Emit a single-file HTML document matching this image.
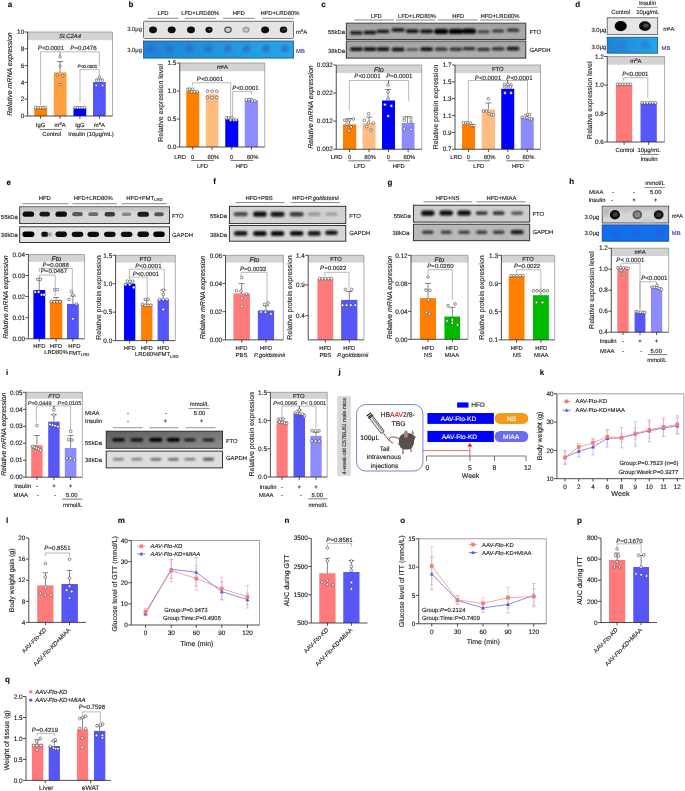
<!DOCTYPE html>
<html><head><meta charset="utf-8"><style>
html,body{margin:0;padding:0;background:#fff;overflow:hidden}
svg{display:block;font-family:"Liberation Sans",sans-serif;text-rendering:geometricPrecision;opacity:0.999}
</style></head><body>
<svg width="685" height="791" viewBox="0 0 685 791">
<defs>
<filter id="bl" x="-50%" y="-80%" width="200%" height="260%"><feGaussianBlur stdDeviation="0.9"/></filter>
<filter id="blb" x="-30%" y="-100%" width="160%" height="300%"><feGaussianBlur stdDeviation="0.8"/></filter>
<filter id="bl2" x="-50%" y="-80%" width="200%" height="260%"><feGaussianBlur stdDeviation="0.5"/></filter>
<filter id="bl3" x="-50%" y="-80%" width="200%" height="260%"><feGaussianBlur stdDeviation="1.4"/></filter>
<linearGradient id="mb" x1="0" x2="1" y1="0" y2="0"><stop offset="0" stop-color="#1c86d6"/><stop offset="1" stop-color="#25a6e6"/></linearGradient>
<linearGradient id="mb2" x1="0" x2="1" y1="0" y2="0"><stop offset="0" stop-color="#1a73e0"/><stop offset="1" stop-color="#1a7ae6"/></linearGradient>
</defs>
<text x="10" y="7.27" font-size="8" text-anchor="middle" fill="#111" stroke="#111" stroke-width="0.14" font-weight="bold">a</text>
<rect x="27.6" y="32" width="84.9" height="8.2" fill="#d3d3d3"/>
<text x="70.05" y="38.34" font-size="5.9" text-anchor="middle" fill="#1e1e1e" stroke="#1e1e1e" stroke-width="0.14" font-style="italic">SLC2A4</text>
<line x1="112.5" y1="32" x2="112.5" y2="116" stroke="#8a8a8a" stroke-width="0.7"/>
<line x1="27.6" y1="32" x2="112.5" y2="32" stroke="#8a8a8a" stroke-width="0.7"/>
<line x1="27.6" y1="32" x2="27.6" y2="116" stroke="#222" stroke-width="0.8"/>
<line x1="24.6" y1="32" x2="27.6" y2="32" stroke="#222" stroke-width="0.8"/>
<text x="24.2" y="34.22" font-size="6.4" text-anchor="end" fill="#1e1e1e" stroke="#1e1e1e" stroke-width="0.14">10</text>
<line x1="24.6" y1="48.8" x2="27.6" y2="48.8" stroke="#222" stroke-width="0.8"/>
<text x="24.2" y="51.02" font-size="6.4" text-anchor="end" fill="#1e1e1e" stroke="#1e1e1e" stroke-width="0.14">8</text>
<line x1="24.6" y1="65.6" x2="27.6" y2="65.6" stroke="#222" stroke-width="0.8"/>
<text x="24.2" y="67.82" font-size="6.4" text-anchor="end" fill="#1e1e1e" stroke="#1e1e1e" stroke-width="0.14">6</text>
<line x1="24.6" y1="82.4" x2="27.6" y2="82.4" stroke="#222" stroke-width="0.8"/>
<text x="24.2" y="84.62" font-size="6.4" text-anchor="end" fill="#1e1e1e" stroke="#1e1e1e" stroke-width="0.14">4</text>
<line x1="24.6" y1="99.2" x2="27.6" y2="99.2" stroke="#222" stroke-width="0.8"/>
<text x="24.2" y="101.42" font-size="6.4" text-anchor="end" fill="#1e1e1e" stroke="#1e1e1e" stroke-width="0.14">2</text>
<line x1="24.6" y1="116" x2="27.6" y2="116" stroke="#222" stroke-width="0.8"/>
<text x="24.2" y="118.22" font-size="6.4" text-anchor="end" fill="#1e1e1e" stroke="#1e1e1e" stroke-width="0.14">0</text>
<rect x="34.25" y="107.6" width="12.75" height="8.4" fill="#FF8000"/>
<rect x="53.75" y="72.3" width="12.75" height="43.7" fill="#FFA040"/>
<rect x="73.5" y="107.6" width="12.75" height="8.4" fill="#0000FF"/>
<rect x="93" y="82" width="12.75" height="34" fill="#5555FF"/>
<line x1="27.6" y1="116" x2="112.5" y2="116" stroke="#222" stroke-width="0.8"/>
<line x1="40.6" y1="116" x2="40.6" y2="118.8" stroke="#222" stroke-width="0.8"/>
<line x1="60.1" y1="116" x2="60.1" y2="118.8" stroke="#222" stroke-width="0.8"/>
<line x1="79.9" y1="116" x2="79.9" y2="118.8" stroke="#222" stroke-width="0.8"/>
<line x1="99.4" y1="116" x2="99.4" y2="118.8" stroke="#222" stroke-width="0.8"/>
<line x1="60.1" y1="72.3" x2="60.1" y2="61.5" stroke="#333" stroke-width="0.6"/>
<line x1="57.1" y1="61.5" x2="63.1" y2="61.5" stroke="#333" stroke-width="0.6"/>
<line x1="99.4" y1="82" x2="99.4" y2="79" stroke="#333" stroke-width="0.6"/>
<line x1="96.4" y1="79" x2="102.4" y2="79" stroke="#333" stroke-width="0.6"/>
<circle cx="35.8" cy="107.6" r="1.38" fill="#fff" stroke="#222" stroke-width="0.5"/>
<circle cx="38.22" cy="107.6" r="1.38" fill="#fff" stroke="#222" stroke-width="0.5"/>
<circle cx="40.65" cy="107.6" r="1.38" fill="#fff" stroke="#222" stroke-width="0.5"/>
<circle cx="43.08" cy="107.6" r="1.38" fill="#fff" stroke="#222" stroke-width="0.5"/>
<circle cx="45.5" cy="107.6" r="1.38" fill="#fff" stroke="#222" stroke-width="0.5"/>
<circle cx="75.1" cy="107.6" r="1.38" fill="#fff" stroke="#222" stroke-width="0.5"/>
<circle cx="77.5" cy="107.6" r="1.38" fill="#fff" stroke="#222" stroke-width="0.5"/>
<circle cx="79.9" cy="107.6" r="1.38" fill="#fff" stroke="#222" stroke-width="0.5"/>
<circle cx="82.3" cy="107.6" r="1.38" fill="#fff" stroke="#222" stroke-width="0.5"/>
<circle cx="84.7" cy="107.6" r="1.38" fill="#fff" stroke="#222" stroke-width="0.5"/>
<polyline points="40.6,105 40.6,51.8 60.1,51.8 60.1,56.5" fill="none" stroke="#8a8a8a" stroke-width="0.6"/>
<polyline points="60.1,56.5 60.1,51.8 99.4,51.8 99.4,66" fill="none" stroke="#8a8a8a" stroke-width="0.6"/>
<polyline points="80,102.5 80,69.6 99.4,69.6 99.4,75.5" fill="none" stroke="#8a8a8a" stroke-width="0.6"/>
<text x="51" y="50.11" font-size="6.1" text-anchor="middle" fill="#1e1e1e" stroke="#1e1e1e" stroke-width="0.14"><tspan font-style="italic">P</tspan>&lt;0.0001</text>
<text x="83.5" y="50.11" font-size="6.1" text-anchor="middle" fill="#1e1e1e" stroke="#1e1e1e" stroke-width="0.14"><tspan font-style="italic">P</tspan>=0.0476</text>
<text x="87.5" y="68.09" font-size="4.6" text-anchor="middle" fill="#1e1e1e" stroke="#1e1e1e" stroke-width="0.14"><tspan font-style="italic">P</tspan>&lt;0.0001</text>
<circle cx="60.1" cy="56.8" r="1.25" fill="#fff" stroke="#222" stroke-width="0.5"/>
<circle cx="60.1" cy="66" r="1.25" fill="#fff" stroke="#222" stroke-width="0.5"/>
<circle cx="57.3" cy="75" r="1.25" fill="#fff" stroke="#222" stroke-width="0.5"/>
<circle cx="62.8" cy="75.8" r="1.25" fill="#fff" stroke="#222" stroke-width="0.5"/>
<circle cx="60.1" cy="84.5" r="1.25" fill="#fff" stroke="#222" stroke-width="0.5"/>
<circle cx="99.4" cy="77" r="1.25" fill="#fff" stroke="#222" stroke-width="0.5"/>
<circle cx="96.4" cy="80.2" r="1.25" fill="#fff" stroke="#222" stroke-width="0.5"/>
<circle cx="102.4" cy="80.2" r="1.25" fill="#fff" stroke="#222" stroke-width="0.5"/>
<circle cx="96.2" cy="85.2" r="1.25" fill="#fff" stroke="#222" stroke-width="0.5"/>
<circle cx="102.6" cy="85.6" r="1.25" fill="#fff" stroke="#222" stroke-width="0.5"/>
<text x="40.6" y="126.64" font-size="5.9" text-anchor="middle" fill="#1e1e1e" stroke="#1e1e1e" stroke-width="0.14">IgG</text>
<text x="60.1" y="126.64" font-size="5.9" text-anchor="middle" fill="#1e1e1e" stroke="#1e1e1e" stroke-width="0.14">m<tspan font-size="70%" dy="-1.6">6</tspan><tspan dy="1.6">A</tspan></text>
<text x="79.9" y="126.64" font-size="5.9" text-anchor="middle" fill="#1e1e1e" stroke="#1e1e1e" stroke-width="0.14">IgG</text>
<text x="99.4" y="126.64" font-size="5.9" text-anchor="middle" fill="#1e1e1e" stroke="#1e1e1e" stroke-width="0.14">m<tspan font-size="70%" dy="-1.6">6</tspan><tspan dy="1.6">A</tspan></text>
<line x1="39.9" y1="129.4" x2="62" y2="129.4" stroke="#222" stroke-width="0.6"/>
<line x1="76.2" y1="129.4" x2="103" y2="129.4" stroke="#222" stroke-width="0.6"/>
<text x="51.7" y="136.04" font-size="5.9" text-anchor="middle" fill="#1e1e1e" stroke="#1e1e1e" stroke-width="0.14">Control</text>
<text x="91" y="136.04" font-size="5.9" text-anchor="middle" fill="#1e1e1e" stroke="#1e1e1e" stroke-width="0.14">Insulin (10μg/mL)</text>
<text x="9.8" y="74" dy="2.43" font-size="7.0" text-anchor="middle" fill="#1e1e1e" stroke="#1e1e1e" stroke-width="0.14" font-style="italic" transform="rotate(-90 9.8 74)">Relative mRNA expression</text>
<text x="131" y="6.77" font-size="8" text-anchor="middle" fill="#111" stroke="#111" stroke-width="0.14" font-weight="bold">b</text>
<text x="163" y="14.64" font-size="5.9" text-anchor="middle" fill="#1e1e1e" stroke="#1e1e1e" stroke-width="0.14">LFD</text>
<text x="200.3" y="14.64" font-size="5.9" text-anchor="middle" fill="#1e1e1e" stroke="#1e1e1e" stroke-width="0.14">LFD+LRD80%</text>
<text x="238.7" y="14.64" font-size="5.9" text-anchor="middle" fill="#1e1e1e" stroke="#1e1e1e" stroke-width="0.14">HFD</text>
<text x="280" y="14.64" font-size="5.9" text-anchor="middle" fill="#1e1e1e" stroke="#1e1e1e" stroke-width="0.14">HFD+LRD80%</text>
<line x1="147.7" y1="18.3" x2="178.4" y2="18.3" stroke="#555" stroke-width="0.7"/>
<line x1="184.8" y1="18.3" x2="215.8" y2="18.3" stroke="#555" stroke-width="0.7"/>
<line x1="223.1" y1="18.3" x2="254.3" y2="18.3" stroke="#555" stroke-width="0.7"/>
<line x1="262.2" y1="18.3" x2="293.7" y2="18.3" stroke="#555" stroke-width="0.7"/>
<text x="142" y="31.04" font-size="5.9" text-anchor="end" fill="#333" stroke="#333" stroke-width="0.14">3.0μg</text>
<text x="142" y="51.54" font-size="5.9" text-anchor="end" fill="#333" stroke="#333" stroke-width="0.14">3.0μg</text>
<rect x="143.5" y="21.3" width="150" height="17.2" fill="#e4e4e4" stroke="#6a625e" stroke-width="0.9" rx="1"/>
<g filter="url(#bl2)">
<ellipse cx="153" cy="29.8" rx="4" ry="3.4" fill="#0a0a0a"/>
<ellipse cx="171.7" cy="29.8" rx="4" ry="3.4" fill="#0a0a0a"/>
<ellipse cx="191" cy="29.8" rx="4" ry="3.4" fill="#0a0a0a"/>
<ellipse cx="209" cy="29.8" rx="3.6" ry="3.1" fill="#111"/>
<ellipse cx="209.6" cy="29.5" rx="1.5" ry="1.2" fill="#444"/>
<ellipse cx="228" cy="29.8" rx="3.8" ry="3.2" fill="#555"/>
<ellipse cx="228" cy="29.8" rx="2.6" ry="2.1" fill="#cfcfcf"/>
<ellipse cx="246.1" cy="29.8" rx="3.6" ry="3" fill="#9a9a9a"/>
<ellipse cx="246.1" cy="29.8" rx="2.2" ry="1.8" fill="#c8c8c8"/>
<ellipse cx="265.1" cy="29.8" rx="4" ry="3.4" fill="#0a0a0a"/>
<ellipse cx="283.5" cy="29.8" rx="3.7" ry="3.2" fill="#111"/>
<ellipse cx="284.3" cy="29.3" rx="1.6" ry="1.3" fill="#3a3a3a"/>
</g>
<rect x="143.5" y="41" width="150" height="17.1" fill="url(#mb)" stroke="#1d4f8f" stroke-width="0.8"/>
<g filter="url(#bl)">
<ellipse cx="150.5" cy="48.8" rx="4.1" ry="3.8" fill="#3568c4" opacity="0.7"/>
<ellipse cx="169.77" cy="48.8" rx="4.1" ry="3.8" fill="#3568c4" opacity="0.7"/>
<ellipse cx="189.64" cy="48.8" rx="4.1" ry="3.8" fill="#3568c4" opacity="0.7"/>
<ellipse cx="208.21" cy="48.8" rx="4.1" ry="3.8" fill="#3568c4" opacity="0.7"/>
<ellipse cx="227.79" cy="48.8" rx="4.1" ry="3.8" fill="#3568c4" opacity="0.7"/>
<ellipse cx="246.46" cy="48.8" rx="4.1" ry="3.8" fill="#3568c4" opacity="0.7"/>
<ellipse cx="266.03" cy="48.8" rx="4.1" ry="3.8" fill="#3568c4" opacity="0.7"/>
<ellipse cx="285" cy="48.8" rx="4.1" ry="3.8" fill="#3568c4" opacity="0.7"/>
</g>
<text x="296" y="33.54" font-size="5.9" text-anchor="start" fill="#1e1e1e" stroke="#1e1e1e" stroke-width="0.14">m<tspan font-size="70%" dy="-1.6">6</tspan><tspan dy="1.6">A</tspan></text>
<text x="296" y="52.54" font-size="5.9" text-anchor="start" fill="#3a3ab8" stroke="#3a3ab8" stroke-width="0.14">MB</text>
<rect x="179.75" y="63" width="85" height="8.2" fill="#d3d3d3"/>
<text x="222.25" y="69.34" font-size="5.9" text-anchor="middle" fill="#1e1e1e" stroke="#1e1e1e" stroke-width="0.14">m<tspan font-size="70%" dy="-1.6">6</tspan><tspan dy="1.6">A</tspan></text>
<line x1="264.75" y1="63" x2="264.75" y2="147" stroke="#8a8a8a" stroke-width="0.7"/>
<line x1="179.75" y1="63" x2="264.75" y2="63" stroke="#8a8a8a" stroke-width="0.7"/>
<line x1="179.75" y1="63" x2="179.75" y2="147" stroke="#222" stroke-width="0.8"/>
<line x1="176.75" y1="63" x2="179.75" y2="63" stroke="#222" stroke-width="0.8"/>
<text x="176.35" y="65.22" font-size="6.4" text-anchor="end" fill="#1e1e1e" stroke="#1e1e1e" stroke-width="0.14">1.5</text>
<line x1="176.75" y1="91" x2="179.75" y2="91" stroke="#222" stroke-width="0.8"/>
<text x="176.35" y="93.22" font-size="6.4" text-anchor="end" fill="#1e1e1e" stroke="#1e1e1e" stroke-width="0.14">1.0</text>
<line x1="176.75" y1="119" x2="179.75" y2="119" stroke="#222" stroke-width="0.8"/>
<text x="176.35" y="121.22" font-size="6.4" text-anchor="end" fill="#1e1e1e" stroke="#1e1e1e" stroke-width="0.14">0.5</text>
<line x1="176.75" y1="147" x2="179.75" y2="147" stroke="#222" stroke-width="0.8"/>
<text x="176.35" y="149.22" font-size="6.4" text-anchor="end" fill="#1e1e1e" stroke="#1e1e1e" stroke-width="0.14">0.0</text>
<rect x="186.25" y="91" width="13" height="56" fill="#FF8000"/>
<rect x="205.75" y="94.3" width="12.75" height="52.7" fill="#FFBB80"/>
<rect x="225.25" y="119.3" width="13" height="27.7" fill="#0000FF"/>
<rect x="244.75" y="100.5" width="13.25" height="46.5" fill="#8C8CFF"/>
<line x1="179.75" y1="147" x2="264.75" y2="147" stroke="#222" stroke-width="0.8"/>
<line x1="192.75" y1="147" x2="192.75" y2="149.8" stroke="#222" stroke-width="0.8"/>
<line x1="212.1" y1="147" x2="212.1" y2="149.8" stroke="#222" stroke-width="0.8"/>
<line x1="231.75" y1="147" x2="231.75" y2="149.8" stroke="#222" stroke-width="0.8"/>
<line x1="251.4" y1="147" x2="251.4" y2="149.8" stroke="#222" stroke-width="0.8"/>
<polyline points="192.6,86 192.6,82.8 230.7,82.8 230.7,117.5" fill="none" stroke="#8a8a8a" stroke-width="0.6"/>
<polyline points="232.6,117.5 232.6,91.6 251.6,91.6 251.6,94.5" fill="none" stroke="#8a8a8a" stroke-width="0.6"/>
<text x="210" y="81.41" font-size="6.1" text-anchor="middle" fill="#1e1e1e" stroke="#1e1e1e" stroke-width="0.14"><tspan font-style="italic">P</tspan>&lt;0.0001</text>
<text x="245.5" y="90.11" font-size="6.1" text-anchor="middle" fill="#1e1e1e" stroke="#1e1e1e" stroke-width="0.14"><tspan font-style="italic">P</tspan>&lt;0.0001</text>
<circle cx="187.9" cy="89.2" r="1.38" fill="#fff" stroke="#222" stroke-width="0.5"/>
<circle cx="189.9" cy="89.2" r="1.38" fill="#fff" stroke="#222" stroke-width="0.5"/>
<circle cx="192.5" cy="89.2" r="1.38" fill="#fff" stroke="#222" stroke-width="0.5"/>
<circle cx="191.8" cy="91.8" r="1.38" fill="#fff" stroke="#222" stroke-width="0.5"/>
<circle cx="194.5" cy="91.8" r="1.38" fill="#fff" stroke="#222" stroke-width="0.5"/>
<circle cx="197.1" cy="91.8" r="1.38" fill="#fff" stroke="#222" stroke-width="0.5"/>
<circle cx="207.6" cy="91.2" r="1.38" fill="#fff" stroke="#222" stroke-width="0.5"/>
<circle cx="212.2" cy="91.2" r="1.38" fill="#fff" stroke="#222" stroke-width="0.5"/>
<circle cx="216.8" cy="91.2" r="1.38" fill="#fff" stroke="#222" stroke-width="0.5"/>
<circle cx="207.6" cy="97.5" r="1.38" fill="#fff" stroke="#222" stroke-width="0.5"/>
<circle cx="212.2" cy="97.5" r="1.38" fill="#fff" stroke="#222" stroke-width="0.5"/>
<circle cx="216.8" cy="97.5" r="1.38" fill="#fff" stroke="#222" stroke-width="0.5"/>
<circle cx="226.6" cy="117.8" r="1.38" fill="#fff" stroke="#222" stroke-width="0.5"/>
<circle cx="228.6" cy="117.8" r="1.38" fill="#fff" stroke="#222" stroke-width="0.5"/>
<circle cx="231.9" cy="117.8" r="1.38" fill="#fff" stroke="#222" stroke-width="0.5"/>
<circle cx="230.6" cy="120" r="1.38" fill="#fff" stroke="#222" stroke-width="0.5"/>
<circle cx="233.9" cy="120" r="1.38" fill="#fff" stroke="#222" stroke-width="0.5"/>
<circle cx="236.2" cy="120" r="1.38" fill="#fff" stroke="#222" stroke-width="0.5"/>
<circle cx="246.4" cy="99.7" r="1.38" fill="#fff" stroke="#222" stroke-width="0.5"/>
<circle cx="249" cy="99.7" r="1.38" fill="#fff" stroke="#222" stroke-width="0.5"/>
<circle cx="251.6" cy="99.7" r="1.38" fill="#fff" stroke="#222" stroke-width="0.5"/>
<circle cx="252.3" cy="101" r="1.38" fill="#fff" stroke="#222" stroke-width="0.5"/>
<circle cx="254.9" cy="101" r="1.38" fill="#fff" stroke="#222" stroke-width="0.5"/>
<text x="186" y="158.84" font-size="5.9" text-anchor="end" fill="#1e1e1e" stroke="#1e1e1e" stroke-width="0.14">LRD</text>
<text x="192.75" y="158.84" font-size="5.9" text-anchor="middle" fill="#1e1e1e" stroke="#1e1e1e" stroke-width="0.14">0</text>
<text x="213.3" y="158.84" font-size="5.9" text-anchor="middle" fill="#1e1e1e" stroke="#1e1e1e" stroke-width="0.14">80%</text>
<text x="231.75" y="158.84" font-size="5.9" text-anchor="middle" fill="#1e1e1e" stroke="#1e1e1e" stroke-width="0.14">0</text>
<text x="252.6" y="158.84" font-size="5.9" text-anchor="middle" fill="#1e1e1e" stroke="#1e1e1e" stroke-width="0.14">80%</text>
<line x1="191.2" y1="160.5" x2="213.8" y2="160.5" stroke="#222" stroke-width="0.6"/>
<line x1="230.6" y1="160.5" x2="253.2" y2="160.5" stroke="#222" stroke-width="0.6"/>
<text x="202.5" y="167.64" font-size="5.9" text-anchor="middle" fill="#1e1e1e" stroke="#1e1e1e" stroke-width="0.14">LFD</text>
<text x="241.7" y="167.64" font-size="5.9" text-anchor="middle" fill="#1e1e1e" stroke="#1e1e1e" stroke-width="0.14">HFD</text>
<text x="160.3" y="103" dy="2.43" font-size="7.0" text-anchor="middle" fill="#1e1e1e" stroke="#1e1e1e" stroke-width="0.14" transform="rotate(-90 160.3 103)">Relative expression level</text>
<text x="323.5" y="7.27" font-size="8" text-anchor="middle" fill="#111" stroke="#111" stroke-width="0.14" font-weight="bold">c</text>
<text x="376.2" y="17.54" font-size="5.9" text-anchor="middle" fill="#1e1e1e" stroke="#1e1e1e" stroke-width="0.14">LFD</text>
<text x="417" y="17.54" font-size="5.9" text-anchor="middle" fill="#1e1e1e" stroke="#1e1e1e" stroke-width="0.14">LFD+LRD80%</text>
<text x="458.2" y="17.54" font-size="5.9" text-anchor="middle" fill="#1e1e1e" stroke="#1e1e1e" stroke-width="0.14">HFD</text>
<text x="500" y="17.54" font-size="5.9" text-anchor="middle" fill="#1e1e1e" stroke="#1e1e1e" stroke-width="0.14">HFD+LRD80%</text>
<line x1="354.5" y1="20" x2="393.7" y2="20" stroke="#555" stroke-width="0.7"/>
<line x1="396" y1="20" x2="435.5" y2="20" stroke="#555" stroke-width="0.7"/>
<line x1="438.2" y1="20" x2="477.5" y2="20" stroke="#555" stroke-width="0.7"/>
<line x1="480" y1="20" x2="519.2" y2="20" stroke="#555" stroke-width="0.7"/>
<text x="345" y="34.44" font-size="5.9" text-anchor="end" fill="#1e1e1e" stroke="#1e1e1e" stroke-width="0.14">55kDa</text>
<text x="345" y="53.04" font-size="5.9" text-anchor="end" fill="#1e1e1e" stroke="#1e1e1e" stroke-width="0.14">38kDa</text>
<text x="529.5" y="33.84" font-size="5.9" text-anchor="start" fill="#1e1e1e" stroke="#1e1e1e" stroke-width="0.14">FTO</text>
<text x="529.5" y="52.04" font-size="5.9" text-anchor="start" fill="#1e1e1e" stroke="#1e1e1e" stroke-width="0.14">GAPDH</text>
<rect x="346.3" y="23.2" width="179.5" height="16.2" fill="#a9a9a9" stroke="#222" stroke-width="0.9"/>
<rect x="346.8" y="23.7" width="178.5" height="3.3" fill="#9a9a9a" filter="url(#bl)" opacity="0.6"/>
<g filter="url(#blb)">
<rect x="350.1" y="31.15" width="12.6" height="3.3" rx="1.65" fill="#111"/>
<rect x="363.7" y="30.85" width="12.6" height="3.3" rx="1.65" fill="#111"/>
<rect x="376.8" y="29.75" width="12.6" height="3.3" rx="1.65" fill="#111"/>
<rect x="391.6" y="28.2" width="13" height="3.6" rx="1.8" fill="#0c0c0c"/>
<rect x="405.8" y="29.3" width="13" height="3.6" rx="1.8" fill="#0c0c0c"/>
<rect x="420.1" y="29.6" width="13" height="3.6" rx="1.8" fill="#0c0c0c"/>
<rect x="434.3" y="28.8" width="13.8" height="5.2" rx="2.6" fill="#030303"/>
<rect x="448.9" y="28.8" width="13.8" height="5.2" rx="2.6" fill="#030303"/>
<rect x="462.1" y="28.6" width="13.8" height="5.2" rx="2.6" fill="#030303"/>
<rect x="477.4" y="30.2" width="12.2" height="3" rx="1.5" fill="#3c3c3c"/>
<rect x="492" y="29.6" width="12.2" height="3" rx="1.5" fill="#333"/>
<rect x="506.9" y="28.6" width="12.2" height="3.2" rx="1.6" fill="#2a2a2a"/>
</g>
<rect x="346.3" y="41.1" width="179.5" height="17" fill="#adadad" stroke="#222" stroke-width="0.9"/>
<rect x="346.8" y="41.6" width="178.5" height="2.9" fill="#9a9a9a" filter="url(#bl)" opacity="0.6"/>
<g filter="url(#blb)">
<rect x="350" y="47.25" width="12.8" height="3.7" rx="1.85" fill="#0e0e0e"/>
<rect x="363.6" y="47.25" width="12.8" height="3.7" rx="1.85" fill="#0e0e0e"/>
<rect x="376.7" y="47.25" width="12.8" height="3.7" rx="1.85" fill="#0e0e0e"/>
<rect x="391.7" y="47.55" width="12.8" height="3.7" rx="1.85" fill="#0e0e0e"/>
<rect x="406.3" y="48" width="12" height="3" rx="1.5" fill="#555"/>
<rect x="420.2" y="47.25" width="12.8" height="3.7" rx="1.85" fill="#111"/>
<rect x="434.9" y="47.45" width="12.6" height="3.3" rx="1.65" fill="#2a2a2a"/>
<rect x="449.5" y="47.45" width="12.6" height="3.3" rx="1.65" fill="#2a2a2a"/>
<rect x="462.7" y="47.05" width="12.6" height="3.3" rx="1.65" fill="#2a2a2a"/>
<rect x="477.2" y="47.75" width="12.6" height="3.3" rx="1.65" fill="#2a2a2a"/>
<rect x="491.8" y="47.25" width="12.6" height="3.3" rx="1.65" fill="#2a2a2a"/>
<rect x="506.6" y="46.7" width="12.8" height="3.8" rx="1.9" fill="#151515"/>
</g>
<rect x="336.25" y="65" width="85.5" height="8" fill="#d3d3d3"/>
<text x="379" y="71.56" font-size="6.8" text-anchor="middle" fill="#1e1e1e" stroke="#1e1e1e" stroke-width="0.14" font-style="italic">Fto</text>
<line x1="421.75" y1="65" x2="421.75" y2="149.25" stroke="#8a8a8a" stroke-width="0.7"/>
<line x1="336.25" y1="65" x2="421.75" y2="65" stroke="#8a8a8a" stroke-width="0.7"/>
<line x1="336.25" y1="65" x2="336.25" y2="149.25" stroke="#222" stroke-width="0.8"/>
<line x1="333.25" y1="65" x2="336.25" y2="65" stroke="#222" stroke-width="0.8"/>
<text x="332.85" y="67.22" font-size="6.4" text-anchor="end" fill="#1e1e1e" stroke="#1e1e1e" stroke-width="0.14">0.032</text>
<line x1="333.25" y1="93.08" x2="336.25" y2="93.08" stroke="#222" stroke-width="0.8"/>
<text x="332.85" y="95.3" font-size="6.4" text-anchor="end" fill="#1e1e1e" stroke="#1e1e1e" stroke-width="0.14">0.022</text>
<line x1="333.25" y1="121.17" x2="336.25" y2="121.17" stroke="#222" stroke-width="0.8"/>
<text x="332.85" y="123.38" font-size="6.4" text-anchor="end" fill="#1e1e1e" stroke="#1e1e1e" stroke-width="0.14">0.012</text>
<line x1="333.25" y1="149.25" x2="336.25" y2="149.25" stroke="#222" stroke-width="0.8"/>
<text x="332.85" y="151.47" font-size="6.4" text-anchor="end" fill="#1e1e1e" stroke="#1e1e1e" stroke-width="0.14">0.002</text>
<rect x="343" y="124.3" width="13.25" height="24.95" fill="#FF8000"/>
<rect x="362.5" y="123" width="13" height="26.25" fill="#FFBB80"/>
<rect x="382" y="100.5" width="13" height="48.75" fill="#0000FF"/>
<rect x="401.75" y="123" width="12.75" height="26.25" fill="#8C8CFF"/>
<line x1="336.25" y1="149.25" x2="421.75" y2="149.25" stroke="#222" stroke-width="0.8"/>
<line x1="349.6" y1="149.25" x2="349.6" y2="152.05" stroke="#222" stroke-width="0.8"/>
<line x1="369" y1="149.25" x2="369" y2="152.05" stroke="#222" stroke-width="0.8"/>
<line x1="388.5" y1="149.25" x2="388.5" y2="152.05" stroke="#222" stroke-width="0.8"/>
<line x1="408.1" y1="149.25" x2="408.1" y2="152.05" stroke="#222" stroke-width="0.8"/>
<line x1="349.6" y1="124.3" x2="349.6" y2="118.5" stroke="#333" stroke-width="0.6"/>
<line x1="346.6" y1="118.5" x2="352.6" y2="118.5" stroke="#333" stroke-width="0.6"/>
<line x1="369" y1="123" x2="369" y2="117" stroke="#333" stroke-width="0.6"/>
<line x1="366" y1="117" x2="372" y2="117" stroke="#333" stroke-width="0.6"/>
<line x1="388.1" y1="100.5" x2="388.1" y2="89.5" stroke="#333" stroke-width="0.6"/>
<line x1="384.9" y1="89.5" x2="391.3" y2="89.5" stroke="#333" stroke-width="0.6"/>
<line x1="407.5" y1="123" x2="407.5" y2="116.7" stroke="#333" stroke-width="0.6"/>
<line x1="404.5" y1="116.7" x2="410.5" y2="116.7" stroke="#333" stroke-width="0.6"/>
<polyline points="349.3,110 349.3,80.5 408.7,80.5 408.7,101.3" fill="none" stroke="#8a8a8a" stroke-width="0.6"/>
<line x1="388.6" y1="80.5" x2="388.6" y2="83" stroke="#222" stroke-width="0.8"/>
<text x="367.5" y="78.41" font-size="6.1" text-anchor="middle" fill="#1e1e1e" stroke="#1e1e1e" stroke-width="0.14"><tspan font-style="italic">P</tspan>&lt;0.0001</text>
<text x="399.3" y="78.41" font-size="6.1" text-anchor="middle" fill="#1e1e1e" stroke="#1e1e1e" stroke-width="0.14"><tspan font-style="italic">P</tspan>=0.0001</text>
<circle cx="344.8" cy="120.2" r="1.38" fill="#fff" stroke="#222" stroke-width="0.5"/>
<circle cx="347" cy="120.2" r="1.38" fill="#fff" stroke="#222" stroke-width="0.5"/>
<circle cx="349.2" cy="120" r="1.38" fill="#fff" stroke="#222" stroke-width="0.5"/>
<circle cx="353.4" cy="119" r="1.38" fill="#fff" stroke="#222" stroke-width="0.5"/>
<circle cx="347" cy="124.3" r="1.38" fill="#fff" stroke="#222" stroke-width="0.5"/>
<circle cx="351.3" cy="127" r="1.38" fill="#fff" stroke="#222" stroke-width="0.5"/>
<circle cx="349.1" cy="130.9" r="1.38" fill="#fff" stroke="#222" stroke-width="0.5"/>
<circle cx="368.6" cy="113.8" r="1.38" fill="#fff" stroke="#222" stroke-width="0.5"/>
<circle cx="364.3" cy="120.2" r="1.38" fill="#fff" stroke="#222" stroke-width="0.5"/>
<circle cx="368.6" cy="122.5" r="1.38" fill="#fff" stroke="#222" stroke-width="0.5"/>
<circle cx="373.3" cy="123.1" r="1.38" fill="#fff" stroke="#222" stroke-width="0.5"/>
<circle cx="366.6" cy="126.6" r="1.38" fill="#fff" stroke="#222" stroke-width="0.5"/>
<circle cx="371" cy="130.1" r="1.38" fill="#fff" stroke="#222" stroke-width="0.5"/>
<circle cx="388.1" cy="84.9" r="1.38" fill="#fff" stroke="#222" stroke-width="0.5"/>
<circle cx="388.1" cy="91.8" r="1.38" fill="#fff" stroke="#222" stroke-width="0.5"/>
<circle cx="388.1" cy="99" r="1.38" fill="#fff" stroke="#222" stroke-width="0.5"/>
<circle cx="384.9" cy="104.6" r="1.38" fill="#fff" stroke="#222" stroke-width="0.5"/>
<circle cx="391.4" cy="105.9" r="1.38" fill="#fff" stroke="#222" stroke-width="0.5"/>
<circle cx="388.1" cy="116.1" r="1.38" fill="#fff" stroke="#222" stroke-width="0.5"/>
<circle cx="404.3" cy="117.6" r="1.38" fill="#fff" stroke="#222" stroke-width="0.5"/>
<circle cx="404.3" cy="120.4" r="1.38" fill="#fff" stroke="#222" stroke-width="0.5"/>
<circle cx="411" cy="117.9" r="1.38" fill="#fff" stroke="#222" stroke-width="0.5"/>
<circle cx="411" cy="121.9" r="1.38" fill="#fff" stroke="#222" stroke-width="0.5"/>
<circle cx="404.3" cy="129" r="1.38" fill="#fff" stroke="#222" stroke-width="0.5"/>
<circle cx="411" cy="129.5" r="1.38" fill="#fff" stroke="#222" stroke-width="0.5"/>
<text x="342.5" y="158.84" font-size="5.9" text-anchor="end" fill="#1e1e1e" stroke="#1e1e1e" stroke-width="0.14">LRD</text>
<text x="349.6" y="158.84" font-size="5.9" text-anchor="middle" fill="#1e1e1e" stroke="#1e1e1e" stroke-width="0.14">0</text>
<text x="370.2" y="158.84" font-size="5.9" text-anchor="middle" fill="#1e1e1e" stroke="#1e1e1e" stroke-width="0.14">80%</text>
<text x="388.5" y="158.84" font-size="5.9" text-anchor="middle" fill="#1e1e1e" stroke="#1e1e1e" stroke-width="0.14">0</text>
<text x="409.3" y="158.84" font-size="5.9" text-anchor="middle" fill="#1e1e1e" stroke="#1e1e1e" stroke-width="0.14">80%</text>
<line x1="348.3" y1="160.8" x2="370.5" y2="160.8" stroke="#222" stroke-width="0.6"/>
<line x1="388" y1="160.8" x2="410" y2="160.8" stroke="#222" stroke-width="0.6"/>
<text x="359.5" y="167.64" font-size="5.9" text-anchor="middle" fill="#1e1e1e" stroke="#1e1e1e" stroke-width="0.14">LFD</text>
<text x="398.8" y="167.64" font-size="5.9" text-anchor="middle" fill="#1e1e1e" stroke="#1e1e1e" stroke-width="0.14">HFD</text>
<text x="310.8" y="107" dy="2.43" font-size="7.0" text-anchor="middle" fill="#1e1e1e" stroke="#1e1e1e" stroke-width="0.14" font-style="italic" transform="rotate(-90 310.8 107)">Relative <tspan font-style="italic">mRNA</tspan> expression</text>
<rect x="455" y="65" width="85.5" height="8" fill="#d3d3d3"/>
<text x="497.75" y="71.24" font-size="5.9" text-anchor="middle" fill="#1e1e1e" stroke="#1e1e1e" stroke-width="0.14">FTO</text>
<line x1="540.5" y1="65" x2="540.5" y2="149.25" stroke="#8a8a8a" stroke-width="0.7"/>
<line x1="455" y1="65" x2="540.5" y2="65" stroke="#8a8a8a" stroke-width="0.7"/>
<line x1="455" y1="65" x2="455" y2="149.25" stroke="#222" stroke-width="0.8"/>
<line x1="452" y1="65" x2="455" y2="65" stroke="#222" stroke-width="0.8"/>
<text x="451.6" y="67.22" font-size="6.4" text-anchor="end" fill="#1e1e1e" stroke="#1e1e1e" stroke-width="0.14">1.7</text>
<line x1="452" y1="81.85" x2="455" y2="81.85" stroke="#222" stroke-width="0.8"/>
<text x="451.6" y="84.07" font-size="6.4" text-anchor="end" fill="#1e1e1e" stroke="#1e1e1e" stroke-width="0.14">1.5</text>
<line x1="452" y1="98.7" x2="455" y2="98.7" stroke="#222" stroke-width="0.8"/>
<text x="451.6" y="100.92" font-size="6.4" text-anchor="end" fill="#1e1e1e" stroke="#1e1e1e" stroke-width="0.14">1.3</text>
<line x1="452" y1="115.55" x2="455" y2="115.55" stroke="#222" stroke-width="0.8"/>
<text x="451.6" y="117.77" font-size="6.4" text-anchor="end" fill="#1e1e1e" stroke="#1e1e1e" stroke-width="0.14">1.1</text>
<line x1="452" y1="132.4" x2="455" y2="132.4" stroke="#222" stroke-width="0.8"/>
<text x="451.6" y="134.62" font-size="6.4" text-anchor="end" fill="#1e1e1e" stroke="#1e1e1e" stroke-width="0.14">0.9</text>
<line x1="452" y1="149.25" x2="455" y2="149.25" stroke="#222" stroke-width="0.8"/>
<text x="451.6" y="151.47" font-size="6.4" text-anchor="end" fill="#1e1e1e" stroke="#1e1e1e" stroke-width="0.14">0.7</text>
<rect x="462" y="124.3" width="13" height="24.95" fill="#FF8000"/>
<rect x="481.75" y="109.5" width="13.25" height="39.75" fill="#FFBB80"/>
<rect x="501.25" y="88.8" width="13" height="60.45" fill="#0000FF"/>
<rect x="520.75" y="117.5" width="13" height="31.75" fill="#8C8CFF"/>
<line x1="455" y1="149.25" x2="540.5" y2="149.25" stroke="#222" stroke-width="0.8"/>
<line x1="468.5" y1="149.25" x2="468.5" y2="152.05" stroke="#222" stroke-width="0.8"/>
<line x1="488.4" y1="149.25" x2="488.4" y2="152.05" stroke="#222" stroke-width="0.8"/>
<line x1="507.8" y1="149.25" x2="507.8" y2="152.05" stroke="#222" stroke-width="0.8"/>
<line x1="527.3" y1="149.25" x2="527.3" y2="152.05" stroke="#222" stroke-width="0.8"/>
<line x1="488.4" y1="109.5" x2="488.4" y2="103" stroke="#333" stroke-width="0.6"/>
<line x1="485.4" y1="103" x2="491.4" y2="103" stroke="#333" stroke-width="0.6"/>
<line x1="507.8" y1="88.8" x2="507.8" y2="84.5" stroke="#333" stroke-width="0.6"/>
<line x1="504.8" y1="84.5" x2="510.8" y2="84.5" stroke="#333" stroke-width="0.6"/>
<line x1="527.3" y1="117.5" x2="527.3" y2="114.5" stroke="#333" stroke-width="0.6"/>
<line x1="524.3" y1="114.5" x2="530.3" y2="114.5" stroke="#333" stroke-width="0.6"/>
<polyline points="468.3,121.8 468.3,80.5 527.5,80.5 527.5,113.8" fill="none" stroke="#8a8a8a" stroke-width="0.6"/>
<line x1="507.6" y1="80.5" x2="507.6" y2="84" stroke="#222" stroke-width="0.8"/>
<text x="488" y="79.71" font-size="6.1" text-anchor="middle" fill="#1e1e1e" stroke="#1e1e1e" stroke-width="0.14"><tspan font-style="italic">P</tspan>&lt;0.0001</text>
<text x="519.5" y="79.71" font-size="6.1" text-anchor="middle" fill="#1e1e1e" stroke="#1e1e1e" stroke-width="0.14"><tspan font-style="italic">P</tspan>&lt;0.0001</text>
<circle cx="463.5" cy="122.8" r="1.38" fill="#fff" stroke="#222" stroke-width="0.5"/>
<circle cx="465.8" cy="122.8" r="1.38" fill="#fff" stroke="#222" stroke-width="0.5"/>
<circle cx="468" cy="122.8" r="1.38" fill="#fff" stroke="#222" stroke-width="0.5"/>
<circle cx="470.5" cy="123.2" r="1.38" fill="#fff" stroke="#222" stroke-width="0.5"/>
<circle cx="472" cy="125.6" r="1.38" fill="#fff" stroke="#222" stroke-width="0.5"/>
<circle cx="474" cy="125.6" r="1.38" fill="#fff" stroke="#222" stroke-width="0.5"/>
<circle cx="488.4" cy="98.8" r="1.38" fill="#fff" stroke="#222" stroke-width="0.5"/>
<circle cx="483.5" cy="111" r="1.38" fill="#fff" stroke="#222" stroke-width="0.5"/>
<circle cx="486.5" cy="111" r="1.38" fill="#fff" stroke="#222" stroke-width="0.5"/>
<circle cx="489" cy="113.8" r="1.38" fill="#fff" stroke="#222" stroke-width="0.5"/>
<circle cx="491.5" cy="114.8" r="1.38" fill="#fff" stroke="#222" stroke-width="0.5"/>
<circle cx="493.5" cy="114.8" r="1.38" fill="#fff" stroke="#222" stroke-width="0.5"/>
<circle cx="504.5" cy="84.5" r="1.38" fill="#fff" stroke="#222" stroke-width="0.5"/>
<circle cx="507.8" cy="84.5" r="1.38" fill="#fff" stroke="#222" stroke-width="0.5"/>
<circle cx="511" cy="85" r="1.38" fill="#fff" stroke="#222" stroke-width="0.5"/>
<circle cx="505" cy="87" r="1.38" fill="#fff" stroke="#222" stroke-width="0.5"/>
<circle cx="510.5" cy="87" r="1.38" fill="#fff" stroke="#222" stroke-width="0.5"/>
<circle cx="505" cy="93" r="1.38" fill="#fff" stroke="#222" stroke-width="0.5"/>
<circle cx="511" cy="93" r="1.38" fill="#fff" stroke="#222" stroke-width="0.5"/>
<circle cx="522" cy="117.4" r="1.38" fill="#fff" stroke="#222" stroke-width="0.5"/>
<circle cx="524.5" cy="117.4" r="1.38" fill="#fff" stroke="#222" stroke-width="0.5"/>
<circle cx="527" cy="117.8" r="1.38" fill="#fff" stroke="#222" stroke-width="0.5"/>
<circle cx="529.5" cy="118.5" r="1.38" fill="#fff" stroke="#222" stroke-width="0.5"/>
<circle cx="531.5" cy="119" r="1.38" fill="#fff" stroke="#222" stroke-width="0.5"/>
<circle cx="527.5" cy="114.5" r="1.38" fill="#fff" stroke="#222" stroke-width="0.5"/>
<circle cx="529.5" cy="114.5" r="1.38" fill="#fff" stroke="#222" stroke-width="0.5"/>
<text x="462" y="158.84" font-size="5.9" text-anchor="end" fill="#1e1e1e" stroke="#1e1e1e" stroke-width="0.14">LRD</text>
<text x="468.5" y="158.84" font-size="5.9" text-anchor="middle" fill="#1e1e1e" stroke="#1e1e1e" stroke-width="0.14">0</text>
<text x="489.6" y="158.84" font-size="5.9" text-anchor="middle" fill="#1e1e1e" stroke="#1e1e1e" stroke-width="0.14">80%</text>
<text x="507.8" y="158.84" font-size="5.9" text-anchor="middle" fill="#1e1e1e" stroke="#1e1e1e" stroke-width="0.14">0</text>
<text x="528.5" y="158.84" font-size="5.9" text-anchor="middle" fill="#1e1e1e" stroke="#1e1e1e" stroke-width="0.14">80%</text>
<line x1="467.5" y1="160.8" x2="490" y2="160.8" stroke="#222" stroke-width="0.6"/>
<line x1="506.3" y1="160.8" x2="529.3" y2="160.8" stroke="#222" stroke-width="0.6"/>
<text x="478.8" y="167.64" font-size="5.9" text-anchor="middle" fill="#1e1e1e" stroke="#1e1e1e" stroke-width="0.14">LFD</text>
<text x="518" y="167.64" font-size="5.9" text-anchor="middle" fill="#1e1e1e" stroke="#1e1e1e" stroke-width="0.14">HFD</text>
<text x="435.8" y="107" dy="2.43" font-size="7.0" text-anchor="middle" fill="#1e1e1e" stroke="#1e1e1e" stroke-width="0.14" transform="rotate(-90 435.8 107)">Relative protein expression</text>
<text x="577.8" y="6.77" font-size="8" text-anchor="middle" fill="#111" stroke="#111" stroke-width="0.14" font-weight="bold">d</text>
<text x="647.5" y="5.44" font-size="5.9" text-anchor="middle" fill="#1e1e1e" stroke="#1e1e1e" stroke-width="0.14">Insulin</text>
<line x1="637" y1="7.4" x2="657.7" y2="7.4" stroke="#555" stroke-width="0.6"/>
<text x="620.7" y="14.24" font-size="5.9" text-anchor="middle" fill="#1e1e1e" stroke="#1e1e1e" stroke-width="0.14">Control</text>
<text x="647.8" y="14.24" font-size="5.9" text-anchor="middle" fill="#1e1e1e" stroke="#1e1e1e" stroke-width="0.14">10μg/mL</text>
<text x="606.3" y="32.34" font-size="5.9" text-anchor="end" fill="#1e1e1e" stroke="#1e1e1e" stroke-width="0.14">3.0μg</text>
<text x="606.3" y="49.04" font-size="5.9" text-anchor="end" fill="#1e1e1e" stroke="#1e1e1e" stroke-width="0.14">3.0μg</text>
<rect x="607.2" y="17.8" width="50.5" height="16.6" fill="#e6e6e6" stroke="#555" stroke-width="0.8"/>
<g filter="url(#bl2)">
<ellipse cx="620.7" cy="26.1" rx="6.1" ry="5.1" fill="#050505"/>
<ellipse cx="644.9" cy="26.1" rx="5.9" ry="4.9" fill="#080808"/>
<ellipse cx="646" cy="25.4" rx="2.8" ry="2" fill="#4a4a4a"/>
</g>
<rect x="607.2" y="37.2" width="50.5" height="16" fill="url(#mb)" stroke="#1d4f8f" stroke-width="0.8"/>
<g filter="url(#bl)">
<ellipse cx="621.5" cy="45.2" rx="5" ry="4.6" fill="#3070d0" opacity="0.5"/>
<ellipse cx="645.5" cy="45.2" rx="5" ry="4.6" fill="#3070d0" opacity="0.5"/>
</g>
<text x="663.2" y="31.34" font-size="5.9" text-anchor="start" fill="#1e1e1e" stroke="#1e1e1e" stroke-width="0.14">m<tspan font-size="70%" dy="-1.6">6</tspan><tspan dy="1.6">A</tspan></text>
<text x="661.5" y="50.44" font-size="5.9" text-anchor="start" fill="#3a3ab8" stroke="#3a3ab8" stroke-width="0.14">MB</text>
<rect x="607.2" y="56.5" width="57.4" height="8.2" fill="#d3d3d3"/>
<text x="635.9" y="62.84" font-size="5.9" text-anchor="middle" fill="#1e1e1e" stroke="#1e1e1e" stroke-width="0.14">m<tspan font-size="70%" dy="-1.6">6</tspan><tspan dy="1.6">A</tspan></text>
<line x1="664.6" y1="56.5" x2="664.6" y2="142" stroke="#8a8a8a" stroke-width="0.7"/>
<line x1="607.2" y1="56.5" x2="664.6" y2="56.5" stroke="#8a8a8a" stroke-width="0.7"/>
<line x1="607.2" y1="56.5" x2="607.2" y2="142" stroke="#222" stroke-width="0.8"/>
<line x1="604.2" y1="56.5" x2="607.2" y2="56.5" stroke="#222" stroke-width="0.8"/>
<text x="603.8" y="58.72" font-size="6.4" text-anchor="end" fill="#1e1e1e" stroke="#1e1e1e" stroke-width="0.14">1.2</text>
<line x1="604.2" y1="85" x2="607.2" y2="85" stroke="#222" stroke-width="0.8"/>
<text x="603.8" y="87.22" font-size="6.4" text-anchor="end" fill="#1e1e1e" stroke="#1e1e1e" stroke-width="0.14">1.0</text>
<line x1="604.2" y1="113.5" x2="607.2" y2="113.5" stroke="#222" stroke-width="0.8"/>
<text x="603.8" y="115.72" font-size="6.4" text-anchor="end" fill="#1e1e1e" stroke="#1e1e1e" stroke-width="0.14">0.8</text>
<line x1="604.2" y1="142" x2="607.2" y2="142" stroke="#222" stroke-width="0.8"/>
<text x="603.8" y="144.22" font-size="6.4" text-anchor="end" fill="#1e1e1e" stroke="#1e1e1e" stroke-width="0.14">0.6</text>
<rect x="615.9" y="84.6" width="16.3" height="57.4" fill="#FF7B7B"/>
<rect x="640.5" y="103.3" width="16.3" height="38.7" fill="#5757F8"/>
<line x1="607.2" y1="142" x2="664.6" y2="142" stroke="#222" stroke-width="0.8"/>
<line x1="624.1" y1="142" x2="624.1" y2="144.8" stroke="#222" stroke-width="0.8"/>
<line x1="648.7" y1="142" x2="648.7" y2="144.8" stroke="#222" stroke-width="0.8"/>
<polyline points="623.4,80.8 623.4,77.7 647.8,77.7 647.8,98.2" fill="none" stroke="#8a8a8a" stroke-width="0.6"/>
<text x="635.3" y="75.61" font-size="6.1" text-anchor="middle" fill="#1e1e1e" stroke="#1e1e1e" stroke-width="0.14"><tspan font-style="italic">P</tspan>&lt;0.0001</text>
<circle cx="617.5" cy="84.3" r="1.38" fill="#fff" stroke="#222" stroke-width="0.5"/>
<circle cx="620.1" cy="84.3" r="1.38" fill="#fff" stroke="#222" stroke-width="0.5"/>
<circle cx="622.7" cy="84.3" r="1.38" fill="#fff" stroke="#222" stroke-width="0.5"/>
<circle cx="625.3" cy="84.3" r="1.38" fill="#fff" stroke="#222" stroke-width="0.5"/>
<circle cx="627.9" cy="84.3" r="1.38" fill="#fff" stroke="#222" stroke-width="0.5"/>
<circle cx="630.5" cy="84.3" r="1.38" fill="#fff" stroke="#222" stroke-width="0.5"/>
<circle cx="642" cy="102.8" r="1.38" fill="#fff" stroke="#222" stroke-width="0.5"/>
<circle cx="644.7" cy="102.8" r="1.38" fill="#fff" stroke="#222" stroke-width="0.5"/>
<circle cx="647.4" cy="102.8" r="1.38" fill="#fff" stroke="#222" stroke-width="0.5"/>
<circle cx="650.1" cy="102.8" r="1.38" fill="#fff" stroke="#222" stroke-width="0.5"/>
<circle cx="652.8" cy="102.8" r="1.38" fill="#fff" stroke="#222" stroke-width="0.5"/>
<circle cx="655.5" cy="102.8" r="1.38" fill="#fff" stroke="#222" stroke-width="0.5"/>
<text x="624.9" y="152.44" font-size="5.9" text-anchor="middle" fill="#1e1e1e" stroke="#1e1e1e" stroke-width="0.14">Control</text>
<text x="648.9" y="152.04" font-size="5.9" text-anchor="middle" fill="#1e1e1e" stroke="#1e1e1e" stroke-width="0.14">10μg/mL</text>
<line x1="640.5" y1="154.4" x2="658.3" y2="154.4" stroke="#222" stroke-width="0.6"/>
<text x="648.9" y="160.84" font-size="5.9" text-anchor="middle" fill="#1e1e1e" stroke="#1e1e1e" stroke-width="0.14">Insulin</text>
<text x="589.4" y="100.2" dy="2.43" font-size="7.0" text-anchor="middle" fill="#1e1e1e" stroke="#1e1e1e" stroke-width="0.14" transform="rotate(-90 589.4 100.2)">Relative expression level</text>
<text x="8.8" y="184.77" font-size="8" text-anchor="middle" fill="#111" stroke="#111" stroke-width="0.14" font-weight="bold">e</text>
<text x="44.7" y="199.94" font-size="5.9" text-anchor="middle" fill="#1e1e1e" stroke="#1e1e1e" stroke-width="0.14">HFD</text>
<text x="93.3" y="199.94" font-size="5.9" text-anchor="middle" fill="#1e1e1e" stroke="#1e1e1e" stroke-width="0.14">HFD+LRD80%</text>
<text x="144.5" y="199.94" font-size="5.9" text-anchor="middle" fill="#1e1e1e" stroke="#1e1e1e" stroke-width="0.14">HFD+FMT<tspan font-size="4.3" dy="1.4">LRD</tspan></text>
<line x1="22.3" y1="203.7" x2="68.8" y2="203.7" stroke="#555" stroke-width="0.7"/>
<line x1="72.3" y1="203.7" x2="116.9" y2="203.7" stroke="#555" stroke-width="0.7"/>
<line x1="121.4" y1="203.7" x2="166.8" y2="203.7" stroke="#555" stroke-width="0.7"/>
<text x="17.9" y="218.54" font-size="5.9" text-anchor="end" fill="#1e1e1e" stroke="#1e1e1e" stroke-width="0.14">55kDa</text>
<text x="17.9" y="236.74" font-size="5.9" text-anchor="end" fill="#1e1e1e" stroke="#1e1e1e" stroke-width="0.14">38kDa</text>
<text x="172" y="218.34" font-size="5.9" text-anchor="start" fill="#1e1e1e" stroke="#1e1e1e" stroke-width="0.14">FTO</text>
<text x="172" y="237.04" font-size="5.9" text-anchor="start" fill="#1e1e1e" stroke="#1e1e1e" stroke-width="0.14">GAPDH</text>
<rect x="19.7" y="206.8" width="149.8" height="16.8" fill="#d6d6d6" stroke="#222" stroke-width="0.9"/>
<rect x="20.2" y="206.8" width="148.8" height="4.2" fill="#bdbdbd" filter="url(#bl)" opacity="0.7"/>
<g filter="url(#bl2)">
<rect x="22.65" y="211.6" width="11.5" height="5.2" rx="2.6" fill="#0c0c0c"/>
<rect x="39.45" y="211.8" width="10.5" height="4.8" rx="2.4" fill="#141414"/>
<rect x="55.45" y="211.6" width="11.5" height="5.2" rx="2.6" fill="#0c0c0c"/>
<rect x="72.25" y="212.1" width="10.5" height="4.2" rx="2.1" fill="#5a5a5a"/>
<rect x="88.3" y="212.3" width="10" height="3.8" rx="1.9" fill="#6a6a6a"/>
<rect x="104.55" y="212" width="10.5" height="4.4" rx="2.2" fill="#3a3a3a"/>
<rect x="121.85" y="212.4" width="9.5" height="3.6" rx="1.8" fill="#8a8a8a"/>
<rect x="137.45" y="211.7" width="11.5" height="5" rx="2.5" fill="#1a1a1a"/>
<rect x="154.25" y="212.2" width="9.5" height="4" rx="2" fill="#555"/>
</g>
<rect x="19.7" y="226.8" width="149.8" height="15.7" fill="#e4e4e4" stroke="#222" stroke-width="0.9"/>
<g filter="url(#bl2)">
<rect x="22.4" y="231.5" width="12" height="5.6" rx="2.8" fill="#050505"/>
<rect x="41.45" y="231.8" width="6.5" height="5" rx="1.62" fill="#080808"/>
<rect x="55.45" y="231.6" width="11.5" height="5.4" rx="2.7" fill="#080808"/>
<rect x="71.75" y="231.7" width="11.5" height="5.2" rx="2.6" fill="#0c0c0c"/>
<rect x="87.55" y="231.7" width="11.5" height="5.2" rx="2.6" fill="#0c0c0c"/>
<rect x="104.05" y="231.7" width="11.5" height="5.2" rx="2.6" fill="#0c0c0c"/>
<rect x="120.85" y="231.7" width="11.5" height="5.2" rx="2.6" fill="#101010"/>
<rect x="137.45" y="231.6" width="11.5" height="5.4" rx="2.7" fill="#080808"/>
<rect x="153.25" y="231.5" width="11.5" height="5.6" rx="2.8" fill="#050505"/>
</g>
<ellipse cx="49.5" cy="234.3" rx="2.2" ry="1.5" fill="#777" filter="url(#bl)"/>
<rect x="28.4" y="254.5" width="56.2" height="7.3" fill="#d3d3d3"/>
<text x="56.5" y="260.71" font-size="6.8" text-anchor="middle" fill="#1e1e1e" stroke="#1e1e1e" stroke-width="0.14" font-style="italic">Fto</text>
<line x1="84.6" y1="254.5" x2="84.6" y2="338.8" stroke="#8a8a8a" stroke-width="0.7"/>
<line x1="28.4" y1="254.5" x2="84.6" y2="254.5" stroke="#8a8a8a" stroke-width="0.7"/>
<line x1="28.4" y1="254.5" x2="28.4" y2="338.8" stroke="#222" stroke-width="0.8"/>
<line x1="25.4" y1="254.5" x2="28.4" y2="254.5" stroke="#222" stroke-width="0.8"/>
<text x="25" y="256.72" font-size="6.4" text-anchor="end" fill="#1e1e1e" stroke="#1e1e1e" stroke-width="0.14">0.04</text>
<line x1="25.4" y1="275.57" x2="28.4" y2="275.57" stroke="#222" stroke-width="0.8"/>
<text x="25" y="277.79" font-size="6.4" text-anchor="end" fill="#1e1e1e" stroke="#1e1e1e" stroke-width="0.14">0.03</text>
<line x1="25.4" y1="296.65" x2="28.4" y2="296.65" stroke="#222" stroke-width="0.8"/>
<text x="25" y="298.87" font-size="6.4" text-anchor="end" fill="#1e1e1e" stroke="#1e1e1e" stroke-width="0.14">0.02</text>
<line x1="25.4" y1="317.73" x2="28.4" y2="317.73" stroke="#222" stroke-width="0.8"/>
<text x="25" y="319.94" font-size="6.4" text-anchor="end" fill="#1e1e1e" stroke="#1e1e1e" stroke-width="0.14">0.01</text>
<line x1="25.4" y1="338.8" x2="28.4" y2="338.8" stroke="#222" stroke-width="0.8"/>
<text x="25" y="341.02" font-size="6.4" text-anchor="end" fill="#1e1e1e" stroke="#1e1e1e" stroke-width="0.14">0.00</text>
<rect x="33.4" y="290" width="11.8" height="48.8" fill="#0000FF"/>
<rect x="49.9" y="299.9" width="12.4" height="38.9" fill="#FF8000"/>
<rect x="67" y="303.9" width="11.8" height="34.9" fill="#5555FF"/>
<line x1="28.4" y1="338.8" x2="84.6" y2="338.8" stroke="#222" stroke-width="0.8"/>
<line x1="39.3" y1="338.8" x2="39.3" y2="341.6" stroke="#222" stroke-width="0.8"/>
<line x1="56.1" y1="338.8" x2="56.1" y2="341.6" stroke="#222" stroke-width="0.8"/>
<line x1="72.9" y1="338.8" x2="72.9" y2="341.6" stroke="#222" stroke-width="0.8"/>
<line x1="39.3" y1="290" x2="39.3" y2="279" stroke="#333" stroke-width="0.6"/>
<line x1="36.3" y1="279" x2="42.3" y2="279" stroke="#333" stroke-width="0.6"/>
<line x1="56.1" y1="299.9" x2="56.1" y2="297.5" stroke="#333" stroke-width="0.6"/>
<line x1="53.1" y1="297.5" x2="59.1" y2="297.5" stroke="#333" stroke-width="0.6"/>
<line x1="72.9" y1="303.9" x2="72.9" y2="296" stroke="#333" stroke-width="0.6"/>
<line x1="69.9" y1="296" x2="75.9" y2="296" stroke="#333" stroke-width="0.6"/>
<polyline points="39.4,272.3 39.4,268.4 72.3,268.4 72.3,294.7" fill="none" stroke="#8a8a8a" stroke-width="0.6"/>
<polyline points="39.4,279 39.4,275 55.2,275 55.2,296" fill="none" stroke="#8a8a8a" stroke-width="0.6"/>
<text x="55.7" y="267.11" font-size="6.1" text-anchor="middle" fill="#1e1e1e" stroke="#1e1e1e" stroke-width="0.14"><tspan font-style="italic">P</tspan>=0.0088</text>
<text x="53.9" y="273.41" font-size="6.1" text-anchor="middle" fill="#1e1e1e" stroke="#1e1e1e" stroke-width="0.14"><tspan font-style="italic">P</tspan>=0.0467</text>
<circle cx="37.8" cy="279.4" r="1.38" fill="#fff" stroke="#222" stroke-width="0.5"/>
<circle cx="40.4" cy="279.4" r="1.38" fill="#fff" stroke="#222" stroke-width="0.5"/>
<circle cx="35.2" cy="292" r="1.38" fill="#fff" stroke="#222" stroke-width="0.5"/>
<circle cx="38.6" cy="292" r="1.38" fill="#fff" stroke="#222" stroke-width="0.5"/>
<circle cx="41.6" cy="294.8" r="1.38" fill="#fff" stroke="#222" stroke-width="0.5"/>
<circle cx="44" cy="294.8" r="1.38" fill="#fff" stroke="#222" stroke-width="0.5"/>
<circle cx="54.6" cy="289.6" r="1.38" fill="#fff" stroke="#222" stroke-width="0.5"/>
<circle cx="57.4" cy="289.6" r="1.38" fill="#fff" stroke="#222" stroke-width="0.5"/>
<circle cx="51.5" cy="301.5" r="1.38" fill="#fff" stroke="#222" stroke-width="0.5"/>
<circle cx="54.3" cy="301.8" r="1.38" fill="#fff" stroke="#222" stroke-width="0.5"/>
<circle cx="57.1" cy="301.8" r="1.38" fill="#fff" stroke="#222" stroke-width="0.5"/>
<circle cx="60" cy="301.8" r="1.38" fill="#fff" stroke="#222" stroke-width="0.5"/>
<circle cx="71.5" cy="291.5" r="1.38" fill="#fff" stroke="#222" stroke-width="0.5"/>
<circle cx="72.9" cy="295" r="1.38" fill="#fff" stroke="#222" stroke-width="0.5"/>
<circle cx="69" cy="299.5" r="1.38" fill="#fff" stroke="#222" stroke-width="0.5"/>
<circle cx="76.5" cy="304" r="1.38" fill="#fff" stroke="#222" stroke-width="0.5"/>
<circle cx="72.9" cy="318.8" r="1.38" fill="#fff" stroke="#222" stroke-width="0.5"/>
<text x="39.4" y="347.64" font-size="5.9" text-anchor="middle" fill="#1e1e1e" stroke="#1e1e1e" stroke-width="0.14">HFD</text>
<text x="56.1" y="347.64" font-size="5.9" text-anchor="middle" fill="#1e1e1e" stroke="#1e1e1e" stroke-width="0.14">HFD</text>
<text x="56.1" y="354.44" font-size="5.9" text-anchor="middle" fill="#1e1e1e" stroke="#1e1e1e" stroke-width="0.14">LRD80%</text>
<text x="74.4" y="347.64" font-size="5.9" text-anchor="middle" fill="#1e1e1e" stroke="#1e1e1e" stroke-width="0.14">HFD</text>
<text x="79" y="354.74" font-size="5.9" text-anchor="middle" fill="#1e1e1e" stroke="#1e1e1e" stroke-width="0.14">FMT<tspan font-size="4.3" dy="1.4">LRD</tspan></text>
<text x="5.8" y="297" dy="2.43" font-size="7.0" text-anchor="middle" fill="#1e1e1e" stroke="#1e1e1e" stroke-width="0.14" font-style="italic" transform="rotate(-90 5.8 297)">Relative <tspan>mRNA</tspan> expression</text>
<rect x="115.6" y="255.3" width="59.7" height="7.3" fill="#d3d3d3"/>
<text x="145.45" y="261.19" font-size="5.9" text-anchor="middle" fill="#1e1e1e" stroke="#1e1e1e" stroke-width="0.14">FTO</text>
<line x1="175.3" y1="255.3" x2="175.3" y2="340.6" stroke="#8a8a8a" stroke-width="0.7"/>
<line x1="115.6" y1="255.3" x2="175.3" y2="255.3" stroke="#8a8a8a" stroke-width="0.7"/>
<line x1="115.6" y1="255.3" x2="115.6" y2="340.6" stroke="#222" stroke-width="0.8"/>
<line x1="112.6" y1="255.3" x2="115.6" y2="255.3" stroke="#222" stroke-width="0.8"/>
<text x="112.2" y="257.52" font-size="6.4" text-anchor="end" fill="#1e1e1e" stroke="#1e1e1e" stroke-width="0.14">1.5</text>
<line x1="112.6" y1="283.73" x2="115.6" y2="283.73" stroke="#222" stroke-width="0.8"/>
<text x="112.2" y="285.95" font-size="6.4" text-anchor="end" fill="#1e1e1e" stroke="#1e1e1e" stroke-width="0.14">1.0</text>
<line x1="112.6" y1="312.17" x2="115.6" y2="312.17" stroke="#222" stroke-width="0.8"/>
<text x="112.2" y="314.38" font-size="6.4" text-anchor="end" fill="#1e1e1e" stroke="#1e1e1e" stroke-width="0.14">0.5</text>
<line x1="112.6" y1="340.6" x2="115.6" y2="340.6" stroke="#222" stroke-width="0.8"/>
<text x="112.2" y="342.82" font-size="6.4" text-anchor="end" fill="#1e1e1e" stroke="#1e1e1e" stroke-width="0.14">0.0</text>
<rect x="124" y="283.6" width="11.3" height="57" fill="#0000FF"/>
<rect x="141.1" y="303.9" width="11.3" height="36.7" fill="#FF8000"/>
<rect x="157.6" y="299.1" width="11.3" height="41.5" fill="#5555FF"/>
<line x1="115.6" y1="340.6" x2="175.3" y2="340.6" stroke="#222" stroke-width="0.8"/>
<line x1="129.7" y1="340.6" x2="129.7" y2="343.4" stroke="#222" stroke-width="0.8"/>
<line x1="146.7" y1="340.6" x2="146.7" y2="343.4" stroke="#222" stroke-width="0.8"/>
<line x1="163.3" y1="340.6" x2="163.3" y2="343.4" stroke="#222" stroke-width="0.8"/>
<line x1="146.7" y1="303.9" x2="146.7" y2="300" stroke="#333" stroke-width="0.6"/>
<line x1="143.7" y1="300" x2="149.7" y2="300" stroke="#333" stroke-width="0.6"/>
<line x1="163.3" y1="299.1" x2="163.3" y2="290" stroke="#333" stroke-width="0.6"/>
<line x1="160.3" y1="290" x2="166.3" y2="290" stroke="#333" stroke-width="0.6"/>
<polyline points="129.3,279 129.3,269.2 164.2,269.2 164.2,289.4" fill="none" stroke="#8a8a8a" stroke-width="0.6"/>
<polyline points="129.3,279 129.3,277.1 147.2,277.1 147.2,300" fill="none" stroke="#8a8a8a" stroke-width="0.6"/>
<text x="148.4" y="267.91" font-size="6.1" text-anchor="middle" fill="#1e1e1e" stroke="#1e1e1e" stroke-width="0.14"><tspan font-style="italic">P</tspan>&lt;0.0001</text>
<text x="145.8" y="275.71" font-size="6.1" text-anchor="middle" fill="#1e1e1e" stroke="#1e1e1e" stroke-width="0.14"><tspan font-style="italic">P</tspan>&lt;0.0001</text>
<circle cx="127.3" cy="281.2" r="1.38" fill="#fff" stroke="#222" stroke-width="0.5"/>
<circle cx="130" cy="281.2" r="1.38" fill="#fff" stroke="#222" stroke-width="0.5"/>
<circle cx="132.8" cy="281.2" r="1.38" fill="#fff" stroke="#222" stroke-width="0.5"/>
<circle cx="125.5" cy="284.6" r="1.38" fill="#fff" stroke="#222" stroke-width="0.5"/>
<circle cx="129.7" cy="284.6" r="1.38" fill="#fff" stroke="#222" stroke-width="0.5"/>
<circle cx="133.8" cy="287.5" r="1.38" fill="#fff" stroke="#222" stroke-width="0.5"/>
<circle cx="145.5" cy="299.5" r="1.38" fill="#fff" stroke="#222" stroke-width="0.5"/>
<circle cx="148" cy="299.5" r="1.38" fill="#fff" stroke="#222" stroke-width="0.5"/>
<circle cx="142.5" cy="304.2" r="1.38" fill="#fff" stroke="#222" stroke-width="0.5"/>
<circle cx="145.2" cy="305.3" r="1.38" fill="#fff" stroke="#222" stroke-width="0.5"/>
<circle cx="148" cy="305.3" r="1.38" fill="#fff" stroke="#222" stroke-width="0.5"/>
<circle cx="150.8" cy="305.3" r="1.38" fill="#fff" stroke="#222" stroke-width="0.5"/>
<circle cx="163.3" cy="290.3" r="1.38" fill="#fff" stroke="#222" stroke-width="0.5"/>
<circle cx="163.3" cy="294.5" r="1.38" fill="#fff" stroke="#222" stroke-width="0.5"/>
<circle cx="159.5" cy="299.5" r="1.38" fill="#fff" stroke="#222" stroke-width="0.5"/>
<circle cx="163.3" cy="299.5" r="1.38" fill="#fff" stroke="#222" stroke-width="0.5"/>
<circle cx="167" cy="299.5" r="1.38" fill="#fff" stroke="#222" stroke-width="0.5"/>
<circle cx="163.3" cy="309.5" r="1.38" fill="#fff" stroke="#222" stroke-width="0.5"/>
<text x="129.7" y="349.54" font-size="5.9" text-anchor="middle" fill="#1e1e1e" stroke="#1e1e1e" stroke-width="0.14">HFD</text>
<text x="146.7" y="349.54" font-size="5.9" text-anchor="middle" fill="#1e1e1e" stroke="#1e1e1e" stroke-width="0.14">HFD</text>
<text x="146.7" y="356.34" font-size="5.9" text-anchor="middle" fill="#1e1e1e" stroke="#1e1e1e" stroke-width="0.14">LRD80%</text>
<text x="163.3" y="349.54" font-size="5.9" text-anchor="middle" fill="#1e1e1e" stroke="#1e1e1e" stroke-width="0.14">HFD</text>
<text x="168.3" y="356.14" font-size="5.9" text-anchor="middle" fill="#1e1e1e" stroke="#1e1e1e" stroke-width="0.14">FMT<tspan font-size="4.3" dy="1.4">LRD</tspan></text>
<text x="98.6" y="297.5" dy="2.43" font-size="7.0" text-anchor="middle" fill="#1e1e1e" stroke="#1e1e1e" stroke-width="0.14" transform="rotate(-90 98.6 297.5)">Relative protein expression</text>
<text x="214.5" y="184.27" font-size="8" text-anchor="middle" fill="#111" stroke="#111" stroke-width="0.14" font-weight="bold">f</text>
<text x="259.1" y="199.94" font-size="5.9" text-anchor="middle" fill="#1e1e1e" stroke="#1e1e1e" stroke-width="0.14">HFD+PBS</text>
<text x="315.6" y="199.94" font-size="5.9" text-anchor="middle" fill="#1e1e1e" stroke="#1e1e1e" stroke-width="0.14">HFD+<tspan font-style="italic">P.goldsteinii</tspan></text>
<line x1="235.5" y1="202.6" x2="284.6" y2="202.6" stroke="#555" stroke-width="0.7"/>
<line x1="290.6" y1="202.6" x2="339.8" y2="202.6" stroke="#555" stroke-width="0.7"/>
<text x="227.1" y="218.04" font-size="5.9" text-anchor="end" fill="#1e1e1e" stroke="#1e1e1e" stroke-width="0.14">55kDa</text>
<text x="227.1" y="236.74" font-size="5.9" text-anchor="end" fill="#1e1e1e" stroke="#1e1e1e" stroke-width="0.14">38kDa</text>
<text x="349.2" y="217.74" font-size="5.9" text-anchor="start" fill="#1e1e1e" stroke="#1e1e1e" stroke-width="0.14">FTO</text>
<text x="349.2" y="234.84" font-size="5.9" text-anchor="start" fill="#1e1e1e" stroke="#1e1e1e" stroke-width="0.14">GAPDH</text>
<rect x="229.4" y="206.3" width="116.4" height="17.3" fill="#d2d2d2" stroke="#222" stroke-width="0.9"/>
<g filter="url(#blb)">
<rect x="233.7" y="212.1" width="14" height="4.2" rx="2.1" fill="#4a4a4a"/>
<rect x="253.15" y="211.6" width="13.5" height="5.2" rx="2.6" fill="#101010"/>
<rect x="270.5" y="211.7" width="14" height="5" rx="2.5" fill="#121212"/>
<rect x="289.7" y="212" width="14" height="4.4" rx="2.2" fill="#383838"/>
<rect x="307.8" y="212.3" width="13" height="3.8" rx="1.9" fill="#9a9a9a"/>
<rect x="325.4" y="212.3" width="12" height="3.8" rx="1.9" fill="#a2a2a2"/>
</g>
<rect x="229.4" y="225.5" width="116.4" height="15.7" fill="#d6d6d6" stroke="#222" stroke-width="0.9"/>
<g filter="url(#blb)">
<rect x="233.95" y="231.1" width="13.5" height="4.6" rx="2.3" fill="#141414"/>
<rect x="253.15" y="230.9" width="13.5" height="5" rx="2.5" fill="#0a0a0a"/>
<rect x="270.75" y="230.9" width="13.5" height="5" rx="2.5" fill="#0a0a0a"/>
<rect x="289.95" y="231.1" width="13.5" height="4.6" rx="2.3" fill="#111"/>
<rect x="307.8" y="231.1" width="13" height="4.6" rx="2.3" fill="#141414"/>
<rect x="325.15" y="230.6" width="12.5" height="4.4" rx="2.2" fill="#161616"/>
</g>
<rect x="225.5" y="255.3" width="57.8" height="7.3" fill="#d3d3d3"/>
<text x="254.4" y="261.51" font-size="6.8" text-anchor="middle" fill="#1e1e1e" stroke="#1e1e1e" stroke-width="0.14" font-style="italic">Fto</text>
<line x1="283.3" y1="255.3" x2="283.3" y2="339.9" stroke="#8a8a8a" stroke-width="0.7"/>
<line x1="225.5" y1="255.3" x2="283.3" y2="255.3" stroke="#8a8a8a" stroke-width="0.7"/>
<line x1="225.5" y1="255.3" x2="225.5" y2="339.9" stroke="#222" stroke-width="0.8"/>
<line x1="222.5" y1="255.3" x2="225.5" y2="255.3" stroke="#222" stroke-width="0.8"/>
<text x="222.1" y="257.52" font-size="6.4" text-anchor="end" fill="#1e1e1e" stroke="#1e1e1e" stroke-width="0.14">0.06</text>
<line x1="222.5" y1="283.5" x2="225.5" y2="283.5" stroke="#222" stroke-width="0.8"/>
<text x="222.1" y="285.72" font-size="6.4" text-anchor="end" fill="#1e1e1e" stroke="#1e1e1e" stroke-width="0.14">0.04</text>
<line x1="222.5" y1="311.7" x2="225.5" y2="311.7" stroke="#222" stroke-width="0.8"/>
<text x="222.1" y="313.92" font-size="6.4" text-anchor="end" fill="#1e1e1e" stroke="#1e1e1e" stroke-width="0.14">0.02</text>
<line x1="222.5" y1="339.9" x2="225.5" y2="339.9" stroke="#222" stroke-width="0.8"/>
<text x="222.1" y="342.12" font-size="6.4" text-anchor="end" fill="#1e1e1e" stroke="#1e1e1e" stroke-width="0.14">0.00</text>
<rect x="233.4" y="293.4" width="16.5" height="46.5" fill="#FF7B7B"/>
<rect x="257.8" y="310.4" width="16.3" height="29.5" fill="#5757F8"/>
<line x1="225.5" y1="339.9" x2="283.3" y2="339.9" stroke="#222" stroke-width="0.8"/>
<line x1="241.7" y1="339.9" x2="241.7" y2="342.7" stroke="#222" stroke-width="0.8"/>
<line x1="266" y1="339.9" x2="266" y2="342.7" stroke="#222" stroke-width="0.8"/>
<line x1="241.7" y1="293.4" x2="241.7" y2="283.6" stroke="#333" stroke-width="0.6"/>
<line x1="238.7" y1="283.6" x2="244.7" y2="283.6" stroke="#333" stroke-width="0.6"/>
<line x1="266" y1="310.4" x2="266" y2="305.7" stroke="#333" stroke-width="0.6"/>
<line x1="263" y1="305.7" x2="269" y2="305.7" stroke="#333" stroke-width="0.6"/>
<polyline points="241.2,276.3 241.2,272.3 267,272.3 267,302.5" fill="none" stroke="#8a8a8a" stroke-width="0.6"/>
<text x="253.1" y="271.01" font-size="6.1" text-anchor="middle" fill="#1e1e1e" stroke="#1e1e1e" stroke-width="0.14"><tspan font-style="italic">P</tspan>=0.0033</text>
<circle cx="241.7" cy="277.6" r="1.38" fill="#fff" stroke="#222" stroke-width="0.5"/>
<circle cx="236.5" cy="290.7" r="1.38" fill="#fff" stroke="#222" stroke-width="0.5"/>
<circle cx="241" cy="291.2" r="1.38" fill="#fff" stroke="#222" stroke-width="0.5"/>
<circle cx="246.5" cy="294" r="1.38" fill="#fff" stroke="#222" stroke-width="0.5"/>
<circle cx="241.7" cy="298.2" r="1.38" fill="#fff" stroke="#222" stroke-width="0.5"/>
<circle cx="241.7" cy="306.5" r="1.38" fill="#fff" stroke="#222" stroke-width="0.5"/>
<circle cx="264.5" cy="304.5" r="1.38" fill="#fff" stroke="#222" stroke-width="0.5"/>
<circle cx="268" cy="303" r="1.38" fill="#fff" stroke="#222" stroke-width="0.5"/>
<circle cx="261" cy="312" r="1.38" fill="#fff" stroke="#222" stroke-width="0.5"/>
<circle cx="265.5" cy="312.2" r="1.38" fill="#fff" stroke="#222" stroke-width="0.5"/>
<circle cx="271" cy="314" r="1.38" fill="#fff" stroke="#222" stroke-width="0.5"/>
<text x="241.5" y="349.84" font-size="5.9" text-anchor="middle" fill="#1e1e1e" stroke="#1e1e1e" stroke-width="0.14">HFD</text>
<text x="241.5" y="356.54" font-size="5.9" text-anchor="middle" fill="#1e1e1e" stroke="#1e1e1e" stroke-width="0.14">PBS</text>
<text x="266.1" y="349.84" font-size="5.9" text-anchor="middle" fill="#1e1e1e" stroke="#1e1e1e" stroke-width="0.14">HFD</text>
<text x="269.6" y="356.54" font-size="5.9" text-anchor="middle" fill="#1e1e1e" stroke="#1e1e1e" stroke-width="0.14" font-style="italic">P.goldsteinii</text>
<text x="202.6" y="297.5" dy="2.43" font-size="7.0" text-anchor="middle" fill="#1e1e1e" stroke="#1e1e1e" stroke-width="0.14" font-style="italic" transform="rotate(-90 202.6 297.5)">Relative <tspan>mRNA</tspan> expression</text>
<rect x="308.2" y="255.3" width="55.7" height="7.3" fill="#d3d3d3"/>
<text x="336.05" y="261.19" font-size="5.9" text-anchor="middle" fill="#1e1e1e" stroke="#1e1e1e" stroke-width="0.14">FTO</text>
<line x1="363.9" y1="255.3" x2="363.9" y2="339.9" stroke="#8a8a8a" stroke-width="0.7"/>
<line x1="308.2" y1="255.3" x2="363.9" y2="255.3" stroke="#8a8a8a" stroke-width="0.7"/>
<line x1="308.2" y1="255.3" x2="308.2" y2="339.9" stroke="#222" stroke-width="0.8"/>
<line x1="305.2" y1="255.3" x2="308.2" y2="255.3" stroke="#222" stroke-width="0.8"/>
<text x="304.8" y="257.52" font-size="6.4" text-anchor="end" fill="#1e1e1e" stroke="#1e1e1e" stroke-width="0.14">1.4</text>
<line x1="305.2" y1="285" x2="308.2" y2="285" stroke="#222" stroke-width="0.8"/>
<text x="304.8" y="287.22" font-size="6.4" text-anchor="end" fill="#1e1e1e" stroke="#1e1e1e" stroke-width="0.14">0.9</text>
<line x1="305.2" y1="315.7" x2="308.2" y2="315.7" stroke="#222" stroke-width="0.8"/>
<text x="304.8" y="317.92" font-size="6.4" text-anchor="end" fill="#1e1e1e" stroke="#1e1e1e" stroke-width="0.14">0.4</text>
<rect x="317.4" y="279.4" width="15.8" height="60.5" fill="#FF7B7B"/>
<rect x="341.1" y="299.9" width="16.3" height="40" fill="#5757F8"/>
<line x1="308.2" y1="339.9" x2="363.9" y2="339.9" stroke="#222" stroke-width="0.8"/>
<line x1="325.3" y1="339.9" x2="325.3" y2="342.7" stroke="#222" stroke-width="0.8"/>
<line x1="349.3" y1="339.9" x2="349.3" y2="342.7" stroke="#222" stroke-width="0.8"/>
<line x1="349.3" y1="299.9" x2="349.3" y2="291.5" stroke="#333" stroke-width="0.6"/>
<line x1="346.3" y1="291.5" x2="352.3" y2="291.5" stroke="#333" stroke-width="0.6"/>
<polyline points="324.8,276.3 324.8,272.3 349,272.3 349,288.1" fill="none" stroke="#8a8a8a" stroke-width="0.6"/>
<text x="333.2" y="270.01" font-size="6.1" text-anchor="middle" fill="#1e1e1e" stroke="#1e1e1e" stroke-width="0.14"><tspan font-style="italic">P</tspan>=0.0022</text>
<circle cx="319.5" cy="278.6" r="1.38" fill="#fff" stroke="#222" stroke-width="0.5"/>
<circle cx="322.5" cy="278.6" r="1.38" fill="#fff" stroke="#222" stroke-width="0.5"/>
<circle cx="325.5" cy="278.6" r="1.38" fill="#fff" stroke="#222" stroke-width="0.5"/>
<circle cx="328.5" cy="278.6" r="1.38" fill="#fff" stroke="#222" stroke-width="0.5"/>
<circle cx="331.5" cy="278.6" r="1.38" fill="#fff" stroke="#222" stroke-width="0.5"/>
<circle cx="345.5" cy="289.4" r="1.38" fill="#fff" stroke="#222" stroke-width="0.5"/>
<circle cx="351.5" cy="289.4" r="1.38" fill="#fff" stroke="#222" stroke-width="0.5"/>
<circle cx="342.5" cy="305.2" r="1.38" fill="#fff" stroke="#222" stroke-width="0.5"/>
<circle cx="346.5" cy="305.2" r="1.38" fill="#fff" stroke="#222" stroke-width="0.5"/>
<circle cx="350.8" cy="305.2" r="1.38" fill="#fff" stroke="#222" stroke-width="0.5"/>
<circle cx="355.2" cy="305.2" r="1.38" fill="#fff" stroke="#222" stroke-width="0.5"/>
<text x="325.3" y="349.84" font-size="5.9" text-anchor="middle" fill="#1e1e1e" stroke="#1e1e1e" stroke-width="0.14">HFD</text>
<text x="325.3" y="356.54" font-size="5.9" text-anchor="middle" fill="#1e1e1e" stroke="#1e1e1e" stroke-width="0.14">PBS</text>
<text x="349.3" y="349.84" font-size="5.9" text-anchor="middle" fill="#1e1e1e" stroke="#1e1e1e" stroke-width="0.14">HFD</text>
<text x="352.8" y="356.54" font-size="5.9" text-anchor="middle" fill="#1e1e1e" stroke="#1e1e1e" stroke-width="0.14" font-style="italic">P.goldsteinii</text>
<text x="289.3" y="297.5" dy="2.43" font-size="7.0" text-anchor="middle" fill="#1e1e1e" stroke="#1e1e1e" stroke-width="0.14" transform="rotate(-90 289.3 297.5)">Relative protein expression</text>
<text x="390" y="184.77" font-size="8" text-anchor="middle" fill="#111" stroke="#111" stroke-width="0.14" font-weight="bold">g</text>
<text x="447.5" y="199.94" font-size="5.9" text-anchor="middle" fill="#1e1e1e" stroke="#1e1e1e" stroke-width="0.14">HFD+NS</text>
<text x="501.4" y="199.94" font-size="5.9" text-anchor="middle" fill="#1e1e1e" stroke="#1e1e1e" stroke-width="0.14">HFD+MIAA</text>
<line x1="423.3" y1="201.8" x2="472.5" y2="201.8" stroke="#555" stroke-width="0.7"/>
<line x1="476.4" y1="201.8" x2="525.5" y2="201.8" stroke="#555" stroke-width="0.7"/>
<text x="410.7" y="217.74" font-size="5.9" text-anchor="end" fill="#1e1e1e" stroke="#1e1e1e" stroke-width="0.14">55kDa</text>
<text x="409.6" y="234.64" font-size="5.9" text-anchor="end" fill="#1e1e1e" stroke="#1e1e1e" stroke-width="0.14">38kDa</text>
<text x="532.4" y="216.24" font-size="5.9" text-anchor="start" fill="#1e1e1e" stroke="#1e1e1e" stroke-width="0.14">FTO</text>
<text x="532.4" y="234.04" font-size="5.9" text-anchor="start" fill="#1e1e1e" stroke="#1e1e1e" stroke-width="0.14">GAPDH</text>
<rect x="413.4" y="205.2" width="116.3" height="16.9" fill="#cdcdcd" stroke="#222" stroke-width="0.9"/>
<g filter="url(#blb)">
<rect x="421.05" y="210.5" width="13.5" height="5.2" rx="2.6" fill="#080808"/>
<rect x="439.45" y="210.6" width="13.5" height="5" rx="2.5" fill="#0a0a0a"/>
<rect x="457.35" y="210.6" width="13.5" height="5" rx="2.5" fill="#0a0a0a"/>
<rect x="475.7" y="211.3" width="12" height="3.6" rx="1.8" fill="#383838"/>
<rect x="492.7" y="211.3" width="12" height="3.6" rx="1.8" fill="#303030"/>
<rect x="511.1" y="211.4" width="12" height="3.4" rx="1.7" fill="#505050"/>
</g>
<rect x="413.4" y="224.2" width="116.3" height="16.5" fill="#b9b9b9" stroke="#222" stroke-width="0.9"/>
<g filter="url(#blb)">
<rect x="422.05" y="230.4" width="11.5" height="3.6" rx="1.8" fill="#383838"/>
<rect x="440.7" y="230.5" width="11" height="3.4" rx="1.7" fill="#404040"/>
<rect x="458.35" y="230.5" width="11.5" height="3.4" rx="1.7" fill="#404040"/>
<rect x="476.2" y="230.5" width="11" height="3.4" rx="1.7" fill="#3a3a3a"/>
<rect x="492.95" y="230.5" width="11.5" height="3.4" rx="1.7" fill="#383838"/>
<rect x="510.6" y="230.1" width="13" height="4.2" rx="2.1" fill="#1e1e1e"/>
</g>
<rect x="411" y="255.3" width="57" height="7.3" fill="#d3d3d3"/>
<text x="439.5" y="261.51" font-size="6.8" text-anchor="middle" fill="#1e1e1e" stroke="#1e1e1e" stroke-width="0.14" font-style="italic">Fto</text>
<line x1="468" y1="255.3" x2="468" y2="339.3" stroke="#8a8a8a" stroke-width="0.7"/>
<line x1="411" y1="255.3" x2="468" y2="255.3" stroke="#8a8a8a" stroke-width="0.7"/>
<line x1="411" y1="255.3" x2="411" y2="339.3" stroke="#222" stroke-width="0.8"/>
<line x1="408" y1="255.3" x2="411" y2="255.3" stroke="#222" stroke-width="0.8"/>
<text x="407.6" y="257.52" font-size="6.4" text-anchor="end" fill="#1e1e1e" stroke="#1e1e1e" stroke-width="0.14">0.12</text>
<line x1="408" y1="283.3" x2="411" y2="283.3" stroke="#222" stroke-width="0.8"/>
<text x="407.6" y="285.52" font-size="6.4" text-anchor="end" fill="#1e1e1e" stroke="#1e1e1e" stroke-width="0.14">0.08</text>
<line x1="408" y1="311.3" x2="411" y2="311.3" stroke="#222" stroke-width="0.8"/>
<text x="407.6" y="313.52" font-size="6.4" text-anchor="end" fill="#1e1e1e" stroke="#1e1e1e" stroke-width="0.14">0.04</text>
<line x1="408" y1="339.3" x2="411" y2="339.3" stroke="#222" stroke-width="0.8"/>
<text x="407.6" y="341.52" font-size="6.4" text-anchor="end" fill="#1e1e1e" stroke="#1e1e1e" stroke-width="0.14">0.00</text>
<rect x="419.9" y="298.1" width="16.1" height="41.2" fill="#FF8000"/>
<rect x="444.4" y="316.5" width="15.7" height="22.8" fill="#00BA00"/>
<line x1="411" y1="339.3" x2="468" y2="339.3" stroke="#222" stroke-width="0.8"/>
<line x1="428" y1="339.3" x2="428" y2="342.1" stroke="#222" stroke-width="0.8"/>
<line x1="452.3" y1="339.3" x2="452.3" y2="342.1" stroke="#222" stroke-width="0.8"/>
<line x1="428" y1="298.1" x2="428" y2="283.4" stroke="#333" stroke-width="0.6"/>
<line x1="425" y1="283.4" x2="431" y2="283.4" stroke="#333" stroke-width="0.6"/>
<line x1="452.3" y1="316.5" x2="452.3" y2="307.3" stroke="#333" stroke-width="0.6"/>
<line x1="449.3" y1="307.3" x2="455.3" y2="307.3" stroke="#333" stroke-width="0.6"/>
<polyline points="428,275 428,269.7 452.3,269.7 452.3,299.9" fill="none" stroke="#8a8a8a" stroke-width="0.6"/>
<text x="440.4" y="268.41" font-size="6.1" text-anchor="middle" fill="#1e1e1e" stroke="#1e1e1e" stroke-width="0.14"><tspan font-style="italic">P</tspan>=0.0260</text>
<circle cx="428" cy="277.1" r="1.38" fill="#fff" stroke="#222" stroke-width="0.5"/>
<circle cx="426" cy="290" r="1.38" fill="#fff" stroke="#222" stroke-width="0.5"/>
<circle cx="430" cy="290.5" r="1.38" fill="#fff" stroke="#222" stroke-width="0.5"/>
<circle cx="428.5" cy="299.9" r="1.38" fill="#fff" stroke="#222" stroke-width="0.5"/>
<circle cx="426.5" cy="312.5" r="1.38" fill="#fff" stroke="#222" stroke-width="0.5"/>
<circle cx="429.5" cy="314" r="1.38" fill="#fff" stroke="#222" stroke-width="0.5"/>
<circle cx="448" cy="305.7" r="1.38" fill="#fff" stroke="#222" stroke-width="0.5"/>
<circle cx="455" cy="304" r="1.38" fill="#fff" stroke="#222" stroke-width="0.5"/>
<circle cx="447" cy="321" r="1.38" fill="#fff" stroke="#222" stroke-width="0.5"/>
<circle cx="452.3" cy="320" r="1.38" fill="#fff" stroke="#222" stroke-width="0.5"/>
<circle cx="452.3" cy="323" r="1.38" fill="#fff" stroke="#222" stroke-width="0.5"/>
<circle cx="457.5" cy="325" r="1.38" fill="#fff" stroke="#222" stroke-width="0.5"/>
<text x="428" y="350.04" font-size="5.9" text-anchor="middle" fill="#1e1e1e" stroke="#1e1e1e" stroke-width="0.14">HFD</text>
<text x="428" y="356.64" font-size="5.9" text-anchor="middle" fill="#1e1e1e" stroke="#1e1e1e" stroke-width="0.14">NS</text>
<text x="451.9" y="350.04" font-size="5.9" text-anchor="middle" fill="#1e1e1e" stroke="#1e1e1e" stroke-width="0.14">HFD</text>
<text x="451.9" y="356.64" font-size="5.9" text-anchor="middle" fill="#1e1e1e" stroke="#1e1e1e" stroke-width="0.14">MIAA</text>
<text x="390" y="297.5" dy="2.43" font-size="7.0" text-anchor="middle" fill="#1e1e1e" stroke="#1e1e1e" stroke-width="0.14" font-style="italic" transform="rotate(-90 390 297.5)">Relative <tspan>mRNA</tspan> expression</text>
<rect x="501.4" y="255.3" width="53.3" height="7.3" fill="#d3d3d3"/>
<text x="528.05" y="261.19" font-size="5.9" text-anchor="middle" fill="#1e1e1e" stroke="#1e1e1e" stroke-width="0.14">FTO</text>
<line x1="554.7" y1="255.3" x2="554.7" y2="339.9" stroke="#8a8a8a" stroke-width="0.7"/>
<line x1="501.4" y1="255.3" x2="554.7" y2="255.3" stroke="#8a8a8a" stroke-width="0.7"/>
<line x1="501.4" y1="255.3" x2="501.4" y2="339.9" stroke="#222" stroke-width="0.8"/>
<line x1="498.4" y1="255.3" x2="501.4" y2="255.3" stroke="#222" stroke-width="0.8"/>
<text x="498" y="257.52" font-size="6.4" text-anchor="end" fill="#1e1e1e" stroke="#1e1e1e" stroke-width="0.14">1.3</text>
<line x1="498.4" y1="283.4" x2="501.4" y2="283.4" stroke="#222" stroke-width="0.8"/>
<text x="498" y="285.62" font-size="6.4" text-anchor="end" fill="#1e1e1e" stroke="#1e1e1e" stroke-width="0.14">0.9</text>
<line x1="498.4" y1="311.7" x2="501.4" y2="311.7" stroke="#222" stroke-width="0.8"/>
<text x="498" y="313.92" font-size="6.4" text-anchor="end" fill="#1e1e1e" stroke="#1e1e1e" stroke-width="0.14">0.5</text>
<line x1="498.4" y1="339.9" x2="501.4" y2="339.9" stroke="#222" stroke-width="0.8"/>
<text x="498" y="342.12" font-size="6.4" text-anchor="end" fill="#1e1e1e" stroke="#1e1e1e" stroke-width="0.14">0.1</text>
<rect x="508.7" y="276.3" width="15.8" height="63.6" fill="#FF8000"/>
<rect x="532.9" y="295.2" width="16" height="44.7" fill="#00BA00"/>
<line x1="501.4" y1="339.9" x2="554.7" y2="339.9" stroke="#222" stroke-width="0.8"/>
<line x1="516.6" y1="339.9" x2="516.6" y2="342.7" stroke="#222" stroke-width="0.8"/>
<line x1="540.9" y1="339.9" x2="540.9" y2="342.7" stroke="#222" stroke-width="0.8"/>
<line x1="540.9" y1="295.2" x2="540.9" y2="290.5" stroke="#333" stroke-width="0.6"/>
<line x1="537.9" y1="290.5" x2="543.9" y2="290.5" stroke="#333" stroke-width="0.6"/>
<polyline points="516.6,273.5 516.6,269.7 540.9,269.7 540.9,289.4" fill="none" stroke="#8a8a8a" stroke-width="0.6"/>
<text x="527.1" y="267.91" font-size="6.1" text-anchor="middle" fill="#1e1e1e" stroke="#1e1e1e" stroke-width="0.14"><tspan font-style="italic">P</tspan>=0.0022</text>
<circle cx="511" cy="275.6" r="1.38" fill="#fff" stroke="#222" stroke-width="0.5"/>
<circle cx="514" cy="275.6" r="1.38" fill="#fff" stroke="#222" stroke-width="0.5"/>
<circle cx="517" cy="275.6" r="1.38" fill="#fff" stroke="#222" stroke-width="0.5"/>
<circle cx="520" cy="275.6" r="1.38" fill="#fff" stroke="#222" stroke-width="0.5"/>
<circle cx="523" cy="275.6" r="1.38" fill="#fff" stroke="#222" stroke-width="0.5"/>
<circle cx="533.5" cy="290.7" r="1.38" fill="#fff" stroke="#222" stroke-width="0.5"/>
<circle cx="537" cy="290.7" r="1.38" fill="#fff" stroke="#222" stroke-width="0.5"/>
<circle cx="540.5" cy="290.7" r="1.38" fill="#fff" stroke="#222" stroke-width="0.5"/>
<circle cx="544" cy="290.7" r="1.38" fill="#fff" stroke="#222" stroke-width="0.5"/>
<circle cx="547.5" cy="290.7" r="1.38" fill="#fff" stroke="#222" stroke-width="0.5"/>
<circle cx="536.5" cy="302.5" r="1.38" fill="#fff" stroke="#222" stroke-width="0.5"/>
<circle cx="542.5" cy="302.5" r="1.38" fill="#fff" stroke="#222" stroke-width="0.5"/>
<text x="516.8" y="350.04" font-size="5.9" text-anchor="middle" fill="#1e1e1e" stroke="#1e1e1e" stroke-width="0.14">HFD</text>
<text x="516.8" y="356.64" font-size="5.9" text-anchor="middle" fill="#1e1e1e" stroke="#1e1e1e" stroke-width="0.14">NS</text>
<text x="541.3" y="350.04" font-size="5.9" text-anchor="middle" fill="#1e1e1e" stroke="#1e1e1e" stroke-width="0.14">HFD</text>
<text x="541.3" y="356.64" font-size="5.9" text-anchor="middle" fill="#1e1e1e" stroke="#1e1e1e" stroke-width="0.14">MIAA</text>
<text x="481.2" y="297.5" dy="2.43" font-size="7.0" text-anchor="middle" fill="#1e1e1e" stroke="#1e1e1e" stroke-width="0.14" transform="rotate(-90 481.2 297.5)">Relative protein expression</text>
<text x="571.7" y="184.07" font-size="8" text-anchor="middle" fill="#111" stroke="#111" stroke-width="0.14" font-weight="bold">h</text>
<text x="655" y="185.44" font-size="5.9" text-anchor="middle" fill="#1e1e1e" stroke="#1e1e1e" stroke-width="0.14">mmol/L</text>
<line x1="644.2" y1="187.5" x2="665.3" y2="187.5" stroke="#555" stroke-width="0.6"/>
<text x="596.2" y="194.34" font-size="5.9" text-anchor="middle" fill="#1e1e1e" stroke="#1e1e1e" stroke-width="0.14">MIAA</text>
<text x="613" y="194.34" font-size="5.9" text-anchor="middle" fill="#1e1e1e" stroke="#1e1e1e" stroke-width="0.14">-</text>
<text x="633.9" y="194.34" font-size="5.9" text-anchor="middle" fill="#1e1e1e" stroke="#1e1e1e" stroke-width="0.14">-</text>
<text x="655.7" y="194.34" font-size="5.9" text-anchor="middle" fill="#1e1e1e" stroke="#1e1e1e" stroke-width="0.14">5.00</text>
<text x="596.9" y="202.24" font-size="5.9" text-anchor="middle" fill="#1e1e1e" stroke="#1e1e1e" stroke-width="0.14">Insulin</text>
<text x="612.3" y="202.24" font-size="5.9" text-anchor="middle" fill="#1e1e1e" stroke="#1e1e1e" stroke-width="0.14">-</text>
<text x="633.9" y="202.24" font-size="5.9" text-anchor="middle" fill="#1e1e1e" stroke="#1e1e1e" stroke-width="0.14">+</text>
<text x="655.7" y="202.24" font-size="5.9" text-anchor="middle" fill="#1e1e1e" stroke="#1e1e1e" stroke-width="0.14">+</text>
<text x="599.3" y="218.84" font-size="5.9" text-anchor="end" fill="#1e1e1e" stroke="#1e1e1e" stroke-width="0.14">3.0μg</text>
<text x="599.3" y="234.64" font-size="5.9" text-anchor="end" fill="#1e1e1e" stroke="#1e1e1e" stroke-width="0.14">3.0μg</text>
<rect x="602.2" y="206.2" width="66.5" height="16.8" fill="#d6d6d6" stroke="#333" stroke-width="0.8"/>
<g filter="url(#bl3)" opacity="0.8">
<rect x="603" y="207" width="65" height="2.5" fill="#aaa"/>
<ellipse cx="606" cy="212" rx="3" ry="5" fill="#b0b0b0"/>
<ellipse cx="626" cy="210" rx="6" ry="2.5" fill="#bdbdbd"/>
<ellipse cx="648" cy="221" rx="8" ry="2" fill="#c2c2c2"/>
</g>
<g filter="url(#bl2)">
<ellipse cx="614.9" cy="214.8" rx="5.1" ry="4.7" fill="#0c0c0c"/>
<ellipse cx="615.3" cy="214.6" rx="2.6" ry="2.3" fill="#3a3a3a"/>
<ellipse cx="637.3" cy="214.8" rx="4.8" ry="4.5" fill="#5a5a5a"/>
<ellipse cx="637.3" cy="214.8" rx="3" ry="2.8" fill="#8a8a8a"/>
<ellipse cx="658.7" cy="214.8" rx="4.9" ry="4.5" fill="#151515"/>
<ellipse cx="658.9" cy="214.8" rx="2.6" ry="2.3" fill="#3a3a3a"/>
</g>
<rect x="602.2" y="224.9" width="66.5" height="16.3" fill="#1270ee" stroke="#1d3f8f" stroke-width="0.8"/>
<g filter="url(#bl)">
<ellipse cx="614.9" cy="232.8" rx="5.2" ry="4.6" fill="#2a5cd6" opacity="0.5"/>
<ellipse cx="637.3" cy="232.8" rx="5.2" ry="4.6" fill="#2a5cd6" opacity="0.5"/>
<ellipse cx="659" cy="232.8" rx="5.2" ry="4.6" fill="#2a5cd6" opacity="0.5"/>
</g>
<text x="671.8" y="218.34" font-size="5.9" text-anchor="start" fill="#1e1e1e" stroke="#1e1e1e" stroke-width="0.14">m<tspan font-size="70%" dy="-1.6">6</tspan><tspan dy="1.6">A</tspan></text>
<text x="671.8" y="235.34" font-size="5.9" text-anchor="start" fill="#3a3ab8" stroke="#3a3ab8" stroke-width="0.14">MB</text>
<rect x="611.3" y="248.2" width="57.4" height="7.9" fill="#d3d3d3"/>
<text x="640" y="254.39" font-size="5.9" text-anchor="middle" fill="#1e1e1e" stroke="#1e1e1e" stroke-width="0.14">m<tspan font-size="70%" dy="-1.6">6</tspan><tspan dy="1.6">A</tspan></text>
<line x1="668.7" y1="248.2" x2="668.7" y2="332.2" stroke="#8a8a8a" stroke-width="0.7"/>
<line x1="611.3" y1="248.2" x2="668.7" y2="248.2" stroke="#8a8a8a" stroke-width="0.7"/>
<line x1="611.3" y1="248.2" x2="611.3" y2="332.2" stroke="#222" stroke-width="0.8"/>
<line x1="608.3" y1="248.2" x2="611.3" y2="248.2" stroke="#222" stroke-width="0.8"/>
<text x="607.9" y="250.42" font-size="6.4" text-anchor="end" fill="#1e1e1e" stroke="#1e1e1e" stroke-width="0.14">1.2</text>
<line x1="608.3" y1="269.2" x2="611.3" y2="269.2" stroke="#222" stroke-width="0.8"/>
<text x="607.9" y="271.42" font-size="6.4" text-anchor="end" fill="#1e1e1e" stroke="#1e1e1e" stroke-width="0.14">1.0</text>
<line x1="608.3" y1="290.2" x2="611.3" y2="290.2" stroke="#222" stroke-width="0.8"/>
<text x="607.9" y="292.42" font-size="6.4" text-anchor="end" fill="#1e1e1e" stroke="#1e1e1e" stroke-width="0.14">0.8</text>
<line x1="608.3" y1="311.2" x2="611.3" y2="311.2" stroke="#222" stroke-width="0.8"/>
<text x="607.9" y="313.42" font-size="6.4" text-anchor="end" fill="#1e1e1e" stroke="#1e1e1e" stroke-width="0.14">0.6</text>
<line x1="608.3" y1="332.2" x2="611.3" y2="332.2" stroke="#222" stroke-width="0.8"/>
<text x="607.9" y="334.42" font-size="6.4" text-anchor="end" fill="#1e1e1e" stroke="#1e1e1e" stroke-width="0.14">0.4</text>
<rect x="617.3" y="269.3" width="11.3" height="62.9" fill="#FF7B7B"/>
<rect x="634.6" y="313" width="10.8" height="19.2" fill="#5757F8"/>
<rect x="650.9" y="287.3" width="11.3" height="44.9" fill="#8C8CFF"/>
<line x1="611.3" y1="332.2" x2="668.7" y2="332.2" stroke="#222" stroke-width="0.8"/>
<line x1="623" y1="332.2" x2="623" y2="335" stroke="#222" stroke-width="0.8"/>
<line x1="640" y1="332.2" x2="640" y2="335" stroke="#222" stroke-width="0.8"/>
<line x1="656.6" y1="332.2" x2="656.6" y2="335" stroke="#222" stroke-width="0.8"/>
<polyline points="621,266 621,263.3 640,263.3 640,309.4" fill="none" stroke="#8a8a8a" stroke-width="0.6"/>
<polyline points="640,309.4 640,281.8 656.6,281.8 656.6,285.4" fill="none" stroke="#8a8a8a" stroke-width="0.6"/>
<text x="630.3" y="261.71" font-size="6.1" text-anchor="middle" fill="#1e1e1e" stroke="#1e1e1e" stroke-width="0.14"><tspan font-style="italic">P</tspan>&lt; 0.0001</text>
<text x="654.3" y="279.91" font-size="6.1" text-anchor="middle" fill="#1e1e1e" stroke="#1e1e1e" stroke-width="0.14"><tspan font-style="italic">P</tspan>&lt;0.0001</text>
<circle cx="618" cy="267.8" r="1.38" fill="#fff" stroke="#222" stroke-width="0.5"/>
<circle cx="620.7" cy="267.8" r="1.38" fill="#fff" stroke="#222" stroke-width="0.5"/>
<circle cx="623.4" cy="267.8" r="1.38" fill="#fff" stroke="#222" stroke-width="0.5"/>
<circle cx="626.1" cy="268" r="1.38" fill="#fff" stroke="#222" stroke-width="0.5"/>
<circle cx="628.3" cy="268.4" r="1.38" fill="#fff" stroke="#222" stroke-width="0.5"/>
<circle cx="621" cy="270.6" r="1.38" fill="#fff" stroke="#222" stroke-width="0.5"/>
<circle cx="624" cy="274" r="1.38" fill="#fff" stroke="#222" stroke-width="0.5"/>
<circle cx="636" cy="311.8" r="1.38" fill="#fff" stroke="#222" stroke-width="0.5"/>
<circle cx="638.3" cy="312" r="1.38" fill="#fff" stroke="#222" stroke-width="0.5"/>
<circle cx="640.6" cy="312.2" r="1.38" fill="#fff" stroke="#222" stroke-width="0.5"/>
<circle cx="642.9" cy="312.4" r="1.38" fill="#fff" stroke="#222" stroke-width="0.5"/>
<circle cx="644.8" cy="312.6" r="1.38" fill="#fff" stroke="#222" stroke-width="0.5"/>
<circle cx="652" cy="287" r="1.38" fill="#fff" stroke="#222" stroke-width="0.5"/>
<circle cx="654.5" cy="287.3" r="1.38" fill="#fff" stroke="#222" stroke-width="0.5"/>
<circle cx="657" cy="287.6" r="1.38" fill="#fff" stroke="#222" stroke-width="0.5"/>
<circle cx="659.3" cy="288.5" r="1.38" fill="#fff" stroke="#222" stroke-width="0.5"/>
<circle cx="661.5" cy="289.5" r="1.38" fill="#fff" stroke="#222" stroke-width="0.5"/>
<circle cx="657" cy="285.5" r="1.38" fill="#fff" stroke="#222" stroke-width="0.5"/>
<text x="616.6" y="343.14" font-size="5.9" text-anchor="end" fill="#1e1e1e" stroke="#1e1e1e" stroke-width="0.14">Insulin</text>
<text x="623" y="343.14" font-size="5.9" text-anchor="middle" fill="#1e1e1e" stroke="#1e1e1e" stroke-width="0.14">-</text>
<text x="640" y="343.14" font-size="5.9" text-anchor="middle" fill="#1e1e1e" stroke="#1e1e1e" stroke-width="0.14">+</text>
<text x="656.6" y="343.14" font-size="5.9" text-anchor="middle" fill="#1e1e1e" stroke="#1e1e1e" stroke-width="0.14">+</text>
<text x="614.5" y="353.44" font-size="5.9" text-anchor="end" fill="#1e1e1e" stroke="#1e1e1e" stroke-width="0.14">MIAA</text>
<text x="623" y="353.44" font-size="5.9" text-anchor="middle" fill="#1e1e1e" stroke="#1e1e1e" stroke-width="0.14">-</text>
<text x="641.3" y="353.44" font-size="5.9" text-anchor="middle" fill="#1e1e1e" stroke="#1e1e1e" stroke-width="0.14">-</text>
<text x="656.2" y="353.44" font-size="5.9" text-anchor="middle" fill="#1e1e1e" stroke="#1e1e1e" stroke-width="0.14">5.00</text>
<line x1="647.8" y1="354.6" x2="667" y2="354.6" stroke="#222" stroke-width="0.6"/>
<text x="656.9" y="361.84" font-size="5.9" text-anchor="middle" fill="#1e1e1e" stroke="#1e1e1e" stroke-width="0.14">mmol/L</text>
<text x="591.4" y="290.2" dy="2.43" font-size="7.0" text-anchor="middle" fill="#1e1e1e" stroke="#1e1e1e" stroke-width="0.14" transform="rotate(-90 591.4 290.2)">Relative expression level</text>
<text x="7" y="375.07" font-size="8" text-anchor="middle" fill="#111" stroke="#111" stroke-width="0.14" font-weight="bold">i</text>
<rect x="25.9" y="392.3" width="56.4" height="6.6" fill="#d3d3d3"/>
<text x="54.1" y="397.84" font-size="5.9" text-anchor="middle" fill="#1e1e1e" stroke="#1e1e1e" stroke-width="0.14" font-style="italic">FTO</text>
<line x1="82.3" y1="392.3" x2="82.3" y2="477.2" stroke="#8a8a8a" stroke-width="0.7"/>
<line x1="25.9" y1="392.3" x2="82.3" y2="392.3" stroke="#8a8a8a" stroke-width="0.7"/>
<line x1="25.9" y1="392.3" x2="25.9" y2="477.2" stroke="#222" stroke-width="0.8"/>
<line x1="22.9" y1="392.3" x2="25.9" y2="392.3" stroke="#222" stroke-width="0.8"/>
<text x="22.5" y="394.52" font-size="6.4" text-anchor="end" fill="#1e1e1e" stroke="#1e1e1e" stroke-width="0.14">0.05</text>
<line x1="22.9" y1="409.28" x2="25.9" y2="409.28" stroke="#222" stroke-width="0.8"/>
<text x="22.5" y="411.5" font-size="6.4" text-anchor="end" fill="#1e1e1e" stroke="#1e1e1e" stroke-width="0.14">0.04</text>
<line x1="22.9" y1="426.26" x2="25.9" y2="426.26" stroke="#222" stroke-width="0.8"/>
<text x="22.5" y="428.48" font-size="6.4" text-anchor="end" fill="#1e1e1e" stroke="#1e1e1e" stroke-width="0.14">0.03</text>
<line x1="22.9" y1="443.24" x2="25.9" y2="443.24" stroke="#222" stroke-width="0.8"/>
<text x="22.5" y="445.46" font-size="6.4" text-anchor="end" fill="#1e1e1e" stroke="#1e1e1e" stroke-width="0.14">0.02</text>
<line x1="22.9" y1="460.22" x2="25.9" y2="460.22" stroke="#222" stroke-width="0.8"/>
<text x="22.5" y="462.44" font-size="6.4" text-anchor="end" fill="#1e1e1e" stroke="#1e1e1e" stroke-width="0.14">0.01</text>
<line x1="22.9" y1="477.2" x2="25.9" y2="477.2" stroke="#222" stroke-width="0.8"/>
<text x="22.5" y="479.42" font-size="6.4" text-anchor="end" fill="#1e1e1e" stroke="#1e1e1e" stroke-width="0.14">0.00</text>
<rect x="31.2" y="445.2" width="11.4" height="32" fill="#FF7B7B"/>
<rect x="48.2" y="421.7" width="11.4" height="55.5" fill="#5757F8"/>
<rect x="64.8" y="448" width="11.6" height="29.2" fill="#8C8CFF"/>
<line x1="25.9" y1="477.2" x2="82.3" y2="477.2" stroke="#222" stroke-width="0.8"/>
<line x1="36.9" y1="477.2" x2="36.9" y2="480" stroke="#222" stroke-width="0.8"/>
<line x1="53.9" y1="477.2" x2="53.9" y2="480" stroke="#222" stroke-width="0.8"/>
<line x1="70.6" y1="477.2" x2="70.6" y2="480" stroke="#222" stroke-width="0.8"/>
<line x1="36.9" y1="445.2" x2="36.9" y2="435.5" stroke="#333" stroke-width="0.6"/>
<line x1="33.9" y1="435.5" x2="39.9" y2="435.5" stroke="#333" stroke-width="0.6"/>
<line x1="53.9" y1="421.7" x2="53.9" y2="414.5" stroke="#333" stroke-width="0.6"/>
<line x1="50.9" y1="414.5" x2="56.9" y2="414.5" stroke="#333" stroke-width="0.6"/>
<line x1="70.6" y1="448" x2="70.6" y2="435.5" stroke="#333" stroke-width="0.6"/>
<line x1="67.6" y1="435.5" x2="73.6" y2="435.5" stroke="#333" stroke-width="0.6"/>
<polyline points="36.4,422.9 36.4,405.9 70.6,405.9 70.6,429.9" fill="none" stroke="#8a8a8a" stroke-width="0.6"/>
<line x1="53.9" y1="405.9" x2="53.9" y2="409" stroke="#222" stroke-width="0.8"/>
<text x="39.6" y="404.71" font-size="5.5" text-anchor="middle" fill="#1e1e1e" stroke="#1e1e1e" stroke-width="0.14"><tspan font-style="italic">P</tspan>=0.0449</text>
<text x="69.4" y="404.71" font-size="5.5" text-anchor="middle" fill="#1e1e1e" stroke="#1e1e1e" stroke-width="0.14"><tspan font-style="italic">P</tspan>=0.0105</text>
<circle cx="36.9" cy="425.5" r="1.38" fill="#fff" stroke="#222" stroke-width="0.5"/>
<circle cx="32.5" cy="446.5" r="1.38" fill="#fff" stroke="#222" stroke-width="0.5"/>
<circle cx="34.5" cy="447.3" r="1.38" fill="#fff" stroke="#222" stroke-width="0.5"/>
<circle cx="36.5" cy="448.1" r="1.38" fill="#fff" stroke="#222" stroke-width="0.5"/>
<circle cx="38.5" cy="449" r="1.38" fill="#fff" stroke="#222" stroke-width="0.5"/>
<circle cx="40.5" cy="450.3" r="1.38" fill="#fff" stroke="#222" stroke-width="0.5"/>
<circle cx="53.9" cy="409.8" r="1.38" fill="#fff" stroke="#222" stroke-width="0.5"/>
<circle cx="53.9" cy="415" r="1.38" fill="#fff" stroke="#222" stroke-width="0.5"/>
<circle cx="50" cy="424.5" r="1.38" fill="#fff" stroke="#222" stroke-width="0.5"/>
<circle cx="52.5" cy="425.2" r="1.38" fill="#fff" stroke="#222" stroke-width="0.5"/>
<circle cx="55" cy="425.8" r="1.38" fill="#fff" stroke="#222" stroke-width="0.5"/>
<circle cx="57.8" cy="426.6" r="1.38" fill="#fff" stroke="#222" stroke-width="0.5"/>
<circle cx="70.6" cy="431.3" r="1.38" fill="#fff" stroke="#222" stroke-width="0.5"/>
<circle cx="68.5" cy="439.6" r="1.38" fill="#fff" stroke="#222" stroke-width="0.5"/>
<circle cx="72" cy="440" r="1.38" fill="#fff" stroke="#222" stroke-width="0.5"/>
<circle cx="67" cy="458" r="1.38" fill="#fff" stroke="#222" stroke-width="0.5"/>
<circle cx="70.5" cy="458.5" r="1.38" fill="#fff" stroke="#222" stroke-width="0.5"/>
<circle cx="74.5" cy="460" r="1.38" fill="#fff" stroke="#222" stroke-width="0.5"/>
<text x="31.2" y="488.04" font-size="5.9" text-anchor="end" fill="#1e1e1e" stroke="#1e1e1e" stroke-width="0.14">Insulin</text>
<text x="36.9" y="488.04" font-size="5.9" text-anchor="middle" fill="#1e1e1e" stroke="#1e1e1e" stroke-width="0.14">-</text>
<text x="53.9" y="488.04" font-size="5.9" text-anchor="middle" fill="#1e1e1e" stroke="#1e1e1e" stroke-width="0.14">+</text>
<text x="70.6" y="488.04" font-size="5.9" text-anchor="middle" fill="#1e1e1e" stroke="#1e1e1e" stroke-width="0.14">+</text>
<text x="28" y="497.14" font-size="5.9" text-anchor="end" fill="#1e1e1e" stroke="#1e1e1e" stroke-width="0.14">MIAA</text>
<text x="37.8" y="497.14" font-size="5.9" text-anchor="middle" fill="#1e1e1e" stroke="#1e1e1e" stroke-width="0.14">-</text>
<text x="55.2" y="497.14" font-size="5.9" text-anchor="middle" fill="#1e1e1e" stroke="#1e1e1e" stroke-width="0.14">-</text>
<text x="71.8" y="497.14" font-size="5.9" text-anchor="middle" fill="#1e1e1e" stroke="#1e1e1e" stroke-width="0.14">5.00</text>
<line x1="62.2" y1="499.1" x2="82.3" y2="499.1" stroke="#222" stroke-width="0.6"/>
<text x="72.7" y="506.84" font-size="5.9" text-anchor="middle" fill="#1e1e1e" stroke="#1e1e1e" stroke-width="0.14">mmol/L</text>
<text x="3.6" y="434.3" dy="2.43" font-size="7.0" text-anchor="middle" fill="#1e1e1e" stroke="#1e1e1e" stroke-width="0.14" font-style="italic" transform="rotate(-90 3.6 434.3)">Relative mRNA expression</text>
<text x="85.1" y="414.64" font-size="5.9" text-anchor="start" fill="#1e1e1e" stroke="#1e1e1e" stroke-width="0.14">MIAA</text>
<text x="85.1" y="423.44" font-size="5.9" text-anchor="start" fill="#1e1e1e" stroke="#1e1e1e" stroke-width="0.14">Insulin</text>
<text x="127.9" y="414.64" font-size="5.9" text-anchor="middle" fill="#1e1e1e" stroke="#1e1e1e" stroke-width="0.14">-</text>
<text x="127.9" y="423.44" font-size="5.9" text-anchor="middle" fill="#1e1e1e" stroke="#1e1e1e" stroke-width="0.14">-</text>
<text x="166" y="414.64" font-size="5.9" text-anchor="middle" fill="#1e1e1e" stroke="#1e1e1e" stroke-width="0.14">-</text>
<text x="165.3" y="423.44" font-size="5.9" text-anchor="middle" fill="#1e1e1e" stroke="#1e1e1e" stroke-width="0.14">+</text>
<text x="199.4" y="406.34" font-size="5.9" text-anchor="middle" fill="#1e1e1e" stroke="#1e1e1e" stroke-width="0.14">mmol/L</text>
<line x1="188.6" y1="408.5" x2="209.6" y2="408.5" stroke="#555" stroke-width="0.6"/>
<text x="199.6" y="414.64" font-size="5.9" text-anchor="middle" fill="#1e1e1e" stroke="#1e1e1e" stroke-width="0.14">5.00</text>
<text x="201.5" y="423.44" font-size="5.9" text-anchor="middle" fill="#1e1e1e" stroke="#1e1e1e" stroke-width="0.14">+</text>
<line x1="112.7" y1="427.7" x2="142.6" y2="427.7" stroke="#777" stroke-width="0.8"/>
<line x1="149.4" y1="427.7" x2="178.6" y2="427.7" stroke="#777" stroke-width="0.8"/>
<line x1="185.6" y1="427.7" x2="215.5" y2="427.7" stroke="#777" stroke-width="0.8"/>
<text x="85.1" y="444.94" font-size="5.9" text-anchor="start" fill="#1e1e1e" stroke="#1e1e1e" stroke-width="0.14">55kDa</text>
<text x="85.1" y="462.04" font-size="5.9" text-anchor="start" fill="#1e1e1e" stroke="#1e1e1e" stroke-width="0.14">38kDa</text>
<text x="226" y="442.54" font-size="5.9" text-anchor="start" fill="#1e1e1e" stroke="#1e1e1e" stroke-width="0.14">FTO</text>
<text x="226" y="459.64" font-size="5.9" text-anchor="start" fill="#1e1e1e" stroke="#1e1e1e" stroke-width="0.14">GAPDH</text>
<linearGradient id="gi" x1="0" x2="1" y1="0" y2="1"><stop offset="0" stop-color="#5e5e5e"/><stop offset="1" stop-color="#8e8e8e"/></linearGradient>
<rect x="106.2" y="431.2" width="116.3" height="17.1" fill="url(#gi)" stroke="#222" stroke-width="0.9"/>
<g filter="url(#blb)">
<rect x="112.25" y="438.2" width="12.5" height="3.2" rx="1.6" fill="#050505"/>
<rect x="130.55" y="438.2" width="12.5" height="3.2" rx="1.6" fill="#080808"/>
<rect x="149.4" y="437.8" width="13" height="4" rx="2" fill="#030303"/>
<rect x="166.9" y="437.8" width="13" height="4" rx="2" fill="#030303"/>
<rect x="184.05" y="438.4" width="11.5" height="2.8" rx="1.4" fill="#101010"/>
<rect x="202.75" y="438.4" width="11.5" height="2.8" rx="1.4" fill="#101010"/>
</g>
<rect x="106.2" y="451.1" width="116.3" height="16.8" fill="#dedede" stroke="#222" stroke-width="0.9"/>
<g filter="url(#blb)">
<rect x="113" y="458" width="11" height="2.6" rx="1.3" fill="#7a7a7a"/>
<rect x="131.3" y="458" width="11" height="2.6" rx="1.3" fill="#7e7e7e"/>
<rect x="150.4" y="457.9" width="11" height="2.8" rx="1.4" fill="#6e6e6e"/>
<rect x="167.9" y="457.9" width="11" height="2.8" rx="1.4" fill="#6a6a6a"/>
<rect x="184.3" y="458" width="11" height="2.6" rx="1.3" fill="#777"/>
<rect x="203" y="457.8" width="11" height="3" rx="1.5" fill="#555"/>
</g>
<rect x="270.4" y="392.3" width="56.8" height="6.6" fill="#d3d3d3"/>
<text x="298.8" y="397.84" font-size="5.9" text-anchor="middle" fill="#1e1e1e" stroke="#1e1e1e" stroke-width="0.14">FTO</text>
<line x1="327.2" y1="392.3" x2="327.2" y2="477" stroke="#8a8a8a" stroke-width="0.7"/>
<line x1="270.4" y1="392.3" x2="327.2" y2="392.3" stroke="#8a8a8a" stroke-width="0.7"/>
<line x1="270.4" y1="392.3" x2="270.4" y2="477" stroke="#222" stroke-width="0.8"/>
<line x1="267.4" y1="392.3" x2="270.4" y2="392.3" stroke="#222" stroke-width="0.8"/>
<text x="267" y="394.52" font-size="6.4" text-anchor="end" fill="#1e1e1e" stroke="#1e1e1e" stroke-width="0.14">1.5</text>
<line x1="267.4" y1="420.53" x2="270.4" y2="420.53" stroke="#222" stroke-width="0.8"/>
<text x="267" y="422.75" font-size="6.4" text-anchor="end" fill="#1e1e1e" stroke="#1e1e1e" stroke-width="0.14">1.0</text>
<line x1="267.4" y1="448.77" x2="270.4" y2="448.77" stroke="#222" stroke-width="0.8"/>
<text x="267" y="450.98" font-size="6.4" text-anchor="end" fill="#1e1e1e" stroke="#1e1e1e" stroke-width="0.14">0.5</text>
<line x1="267.4" y1="477" x2="270.4" y2="477" stroke="#222" stroke-width="0.8"/>
<text x="267" y="479.22" font-size="6.4" text-anchor="end" fill="#1e1e1e" stroke="#1e1e1e" stroke-width="0.14">0.0</text>
<rect x="276.5" y="421.1" width="11.2" height="55.9" fill="#FF7B7B"/>
<rect x="293.5" y="413.7" width="11.5" height="63.3" fill="#5757F8"/>
<rect x="310.4" y="435.9" width="11.3" height="41.1" fill="#8C8CFF"/>
<line x1="270.4" y1="477" x2="327.2" y2="477" stroke="#222" stroke-width="0.8"/>
<line x1="282.1" y1="477" x2="282.1" y2="479.8" stroke="#222" stroke-width="0.8"/>
<line x1="299.3" y1="477" x2="299.3" y2="479.8" stroke="#222" stroke-width="0.8"/>
<line x1="316" y1="477" x2="316" y2="479.8" stroke="#222" stroke-width="0.8"/>
<line x1="299.3" y1="413.7" x2="299.3" y2="410.4" stroke="#333" stroke-width="0.6"/>
<line x1="296.3" y1="410.4" x2="302.3" y2="410.4" stroke="#333" stroke-width="0.6"/>
<line x1="316" y1="435.9" x2="316" y2="432.3" stroke="#333" stroke-width="0.6"/>
<line x1="313" y1="432.3" x2="319" y2="432.3" stroke="#333" stroke-width="0.6"/>
<polyline points="281.9,417.5 281.9,406 316,406 316,428.5" fill="none" stroke="#8a8a8a" stroke-width="0.6"/>
<line x1="299.3" y1="406" x2="299.3" y2="409.6" stroke="#222" stroke-width="0.8"/>
<text x="285.2" y="404.91" font-size="5.5" text-anchor="middle" fill="#1e1e1e" stroke="#1e1e1e" stroke-width="0.14"><tspan font-style="italic">P</tspan>=0.0066</text>
<text x="313.4" y="404.91" font-size="5.5" text-anchor="middle" fill="#1e1e1e" stroke="#1e1e1e" stroke-width="0.14"><tspan font-style="italic">P</tspan>&lt; 0.0001</text>
<circle cx="278.5" cy="419.3" r="1.38" fill="#fff" stroke="#222" stroke-width="0.5"/>
<circle cx="280.6" cy="419.3" r="1.38" fill="#fff" stroke="#222" stroke-width="0.5"/>
<circle cx="283" cy="419" r="1.38" fill="#fff" stroke="#222" stroke-width="0.5"/>
<circle cx="279.5" cy="421.8" r="1.38" fill="#fff" stroke="#222" stroke-width="0.5"/>
<circle cx="282" cy="422.5" r="1.38" fill="#fff" stroke="#222" stroke-width="0.5"/>
<circle cx="284.5" cy="423" r="1.38" fill="#fff" stroke="#222" stroke-width="0.5"/>
<circle cx="286.6" cy="423.5" r="1.38" fill="#fff" stroke="#222" stroke-width="0.5"/>
<circle cx="299.3" cy="410" r="1.38" fill="#fff" stroke="#222" stroke-width="0.5"/>
<circle cx="295" cy="413" r="1.38" fill="#fff" stroke="#222" stroke-width="0.5"/>
<circle cx="297.5" cy="413.3" r="1.38" fill="#fff" stroke="#222" stroke-width="0.5"/>
<circle cx="300" cy="413.7" r="1.38" fill="#fff" stroke="#222" stroke-width="0.5"/>
<circle cx="302.5" cy="414.2" r="1.38" fill="#fff" stroke="#222" stroke-width="0.5"/>
<circle cx="304.3" cy="416" r="1.38" fill="#fff" stroke="#222" stroke-width="0.5"/>
<circle cx="312" cy="430.7" r="1.38" fill="#fff" stroke="#222" stroke-width="0.5"/>
<circle cx="315.5" cy="430.7" r="1.38" fill="#fff" stroke="#222" stroke-width="0.5"/>
<circle cx="319" cy="430.7" r="1.38" fill="#fff" stroke="#222" stroke-width="0.5"/>
<circle cx="312" cy="440.9" r="1.38" fill="#fff" stroke="#222" stroke-width="0.5"/>
<circle cx="315.5" cy="440.9" r="1.38" fill="#fff" stroke="#222" stroke-width="0.5"/>
<circle cx="319.3" cy="441.3" r="1.38" fill="#fff" stroke="#222" stroke-width="0.5"/>
<text x="268" y="488.64" font-size="5.9" text-anchor="middle" fill="#1e1e1e" stroke="#1e1e1e" stroke-width="0.14">Insulin</text>
<text x="282.1" y="488.64" font-size="5.9" text-anchor="middle" fill="#1e1e1e" stroke="#1e1e1e" stroke-width="0.14">-</text>
<text x="299.3" y="488.64" font-size="5.9" text-anchor="middle" fill="#1e1e1e" stroke="#1e1e1e" stroke-width="0.14">+</text>
<text x="316" y="488.64" font-size="5.9" text-anchor="middle" fill="#1e1e1e" stroke="#1e1e1e" stroke-width="0.14">+</text>
<text x="266.3" y="497.14" font-size="5.9" text-anchor="middle" fill="#1e1e1e" stroke="#1e1e1e" stroke-width="0.14">MIAA</text>
<text x="282.1" y="497.14" font-size="5.9" text-anchor="middle" fill="#1e1e1e" stroke="#1e1e1e" stroke-width="0.14">-</text>
<text x="300.9" y="497.14" font-size="5.9" text-anchor="middle" fill="#1e1e1e" stroke="#1e1e1e" stroke-width="0.14">-</text>
<text x="317.3" y="497.14" font-size="5.9" text-anchor="middle" fill="#1e1e1e" stroke="#1e1e1e" stroke-width="0.14">5.00</text>
<line x1="308.3" y1="498.8" x2="327.5" y2="498.8" stroke="#222" stroke-width="0.6"/>
<text x="318.1" y="507.04" font-size="5.9" text-anchor="middle" fill="#1e1e1e" stroke="#1e1e1e" stroke-width="0.14">mmol/L</text>
<text x="251.5" y="434.3" dy="2.43" font-size="7.0" text-anchor="middle" fill="#1e1e1e" stroke="#1e1e1e" stroke-width="0.14" transform="rotate(-90 251.5 434.3)">Relative protein expression</text>
<text x="339.5" y="373.97" font-size="8" text-anchor="middle" fill="#111" stroke="#111" stroke-width="0.14" font-weight="bold">j</text>
<rect x="337.2" y="396.1" width="13.6" height="79.7" fill="#d9d9d9"/>
<text x="344.2" y="436" dy="1.84" font-size="5.3" text-anchor="middle" fill="#333" stroke="#333" stroke-width="0.14" transform="rotate(-90 344.2 436)">4-week-old C57BL/6J male mice</text>
<rect x="356.6" y="404.6" width="66.3" height="66.4" rx="9" fill="none" stroke="#5a66b8" stroke-width="0.8"/>
<g transform="translate(369.3 414.8) rotate(52.5)"><rect x="3" y="-2" width="19" height="4" fill="#e8e8ee" stroke="#333" stroke-width="0.7"/><rect x="4" y="-1.2" width="17" height="1.2" fill="#8a8f9a"/><rect x="-1.2" y="-2.8" width="1.2" height="5.6" fill="#222"/><rect x="0.8" y="-2.6" width="1" height="5.2" fill="#222"/><rect x="2" y="-3" width="1" height="6" fill="#222"/><line x1="22" y1="0" x2="33" y2="0" stroke="#222" stroke-width="0.7"/></g>
<text x="380.5" y="417.16" font-size="6.8" text-anchor="start" fill="#1e1e1e" stroke="#1e1e1e" stroke-width="0.14">HB<tspan fill="#e02020" stroke="#e02020">AAV</tspan>2/8-</text>
<text x="398.5" y="425.66" font-size="6.8" text-anchor="middle" fill="#1e1e1e" stroke="#1e1e1e" stroke-width="0.14">TBG</text>
<text x="369.7" y="439.76" font-size="6.8" text-anchor="middle" fill="#1e1e1e" stroke="#1e1e1e" stroke-width="0.14">100μL</text>
<text x="384.6" y="450.69" font-size="6.6" text-anchor="middle" fill="#1e1e1e" stroke="#1e1e1e" stroke-width="0.14">Tail</text>
<text x="383.9" y="459.49" font-size="6.6" text-anchor="middle" fill="#1e1e1e" stroke="#1e1e1e" stroke-width="0.14">intravenous</text>
<text x="384.6" y="467.89" font-size="6.6" text-anchor="middle" fill="#1e1e1e" stroke="#1e1e1e" stroke-width="0.14">injections</text>
<path d="M399,438.6 C396,437 392,436.3 389.3,437.9 C388.6,439.6 390.2,441.6 392.6,442.9" fill="none" stroke="#b87a70" stroke-width="1.2" stroke-linecap="round"/>
<path d="M403.2,448 L402.8,453.6 M410.5,448 L411.2,451.3" stroke="#b87a70" stroke-width="1.6" stroke-linecap="round"/>
<circle cx="398.3" cy="444" r="0.8" fill="#b87a70"/>
<path d="M399,440 C399,436 402,433.5 406,433.3 C409,433 412,433.2 413.5,435 L415.8,437.3 C415,438.5 414.5,439.5 414,441 C414,445 412.5,448.5 409,449.3 C406,450 402,449.5 400.2,447 C398.8,445 398.8,442 399,440 Z" fill="#57514e"/>
<ellipse cx="405.9" cy="434.2" rx="2.1" ry="3.7" fill="#b67f76"/>
<polygon points="411.4,434.6 412.3,429.5 414.2,433.8" fill="#b67f76"/>
<circle cx="410.3" cy="436.3" r="0.55" fill="#111"/>
<circle cx="415.3" cy="437.4" r="0.6" fill="#d09090"/>
<line x1="422.9" y1="450.6" x2="469.9" y2="450.6" stroke="#e84848" stroke-width="0.8"/>
<line x1="469.9" y1="446" x2="469.9" y2="456" stroke="#e84848" stroke-width="0.8"/>
<polygon points="469.9,443 467.5,446.5 472.3,446.5" fill="#e01010"/>
<rect x="457.1" y="402.4" width="11.4" height="5.2" fill="#0000FF"/>
<text x="471.2" y="407.09" font-size="6.6" text-anchor="start" fill="#1e1e1e" stroke="#1e1e1e" stroke-width="0.14">HFD</text>
<rect x="427.4" y="413" width="66.5" height="10.9" fill="#0000FF"/>
<rect x="427.4" y="430.9" width="66.5" height="11.1" fill="#0000FF"/>
<rect x="494.6" y="413" width="33.7" height="10.9" rx="5.4" fill="#F39A1A"/>
<rect x="494.6" y="430.9" width="33.7" height="11.1" rx="5.5" fill="#6B6BEF"/>
<text x="458.5" y="420.89" font-size="6.6" text-anchor="middle" fill="#fff" stroke="#fff" stroke-width="0.14">AAV-Fto-KD</text>
<text x="459.4" y="438.89" font-size="6.6" text-anchor="middle" fill="#fff" stroke="#fff" stroke-width="0.14">AAV-Fto-KD</text>
<text x="511.5" y="420.89" font-size="6.6" text-anchor="middle" fill="#fff" stroke="#fff" stroke-width="0.14">NS</text>
<text x="511.1" y="438.89" font-size="6.6" text-anchor="middle" fill="#fff" stroke="#fff" stroke-width="0.14">MIAA</text>
<line x1="426.5" y1="456" x2="526" y2="456" stroke="#555" stroke-width="0.8"/>
<line x1="426.5" y1="456" x2="426.5" y2="461" stroke="#555" stroke-width="0.8"/>
<line x1="469.9" y1="456" x2="469.9" y2="461" stroke="#555" stroke-width="0.8"/>
<line x1="494.5" y1="456" x2="494.5" y2="461" stroke="#555" stroke-width="0.8"/>
<line x1="526" y1="456" x2="526" y2="461" stroke="#555" stroke-width="0.8"/>
<text x="427.4" y="469.86" font-size="6.8" text-anchor="middle" fill="#1e1e1e" stroke="#1e1e1e" stroke-width="0.14">0</text>
<text x="469.9" y="469.86" font-size="6.8" text-anchor="middle" fill="#1e1e1e" stroke="#1e1e1e" stroke-width="0.14">5</text>
<text x="494.5" y="469.86" font-size="6.8" text-anchor="middle" fill="#1e1e1e" stroke="#1e1e1e" stroke-width="0.14">8</text>
<text x="527.7" y="469.86" font-size="6.8" text-anchor="middle" fill="#1e1e1e" stroke="#1e1e1e" stroke-width="0.14">12</text>
<text x="470.5" y="477.66" font-size="6.8" text-anchor="middle" fill="#1e1e1e" stroke="#1e1e1e" stroke-width="0.14">Week</text>
<text x="542" y="375.37" font-size="8" text-anchor="middle" fill="#111" stroke="#111" stroke-width="0.14" font-weight="bold">k</text>
<line x1="556.9" y1="393.8" x2="683.9" y2="393.8" stroke="#8a8a8a" stroke-width="0.8"/>
<line x1="683.9" y1="393.8" x2="683.9" y2="478.7" stroke="#8a8a8a" stroke-width="0.8"/>
<line x1="556.9" y1="393.8" x2="556.9" y2="478.7" stroke="#222" stroke-width="0.8"/>
<line x1="553.9" y1="393.8" x2="556.9" y2="393.8" stroke="#222" stroke-width="0.8"/>
<text x="553.5" y="396.02" font-size="6.4" text-anchor="end" fill="#1e1e1e" stroke="#1e1e1e" stroke-width="0.14">40</text>
<line x1="553.9" y1="422.1" x2="556.9" y2="422.1" stroke="#222" stroke-width="0.8"/>
<text x="553.5" y="424.32" font-size="6.4" text-anchor="end" fill="#1e1e1e" stroke="#1e1e1e" stroke-width="0.14">30</text>
<line x1="553.9" y1="450.4" x2="556.9" y2="450.4" stroke="#222" stroke-width="0.8"/>
<text x="553.5" y="452.62" font-size="6.4" text-anchor="end" fill="#1e1e1e" stroke="#1e1e1e" stroke-width="0.14">20</text>
<line x1="553.9" y1="478.7" x2="556.9" y2="478.7" stroke="#222" stroke-width="0.8"/>
<text x="553.5" y="480.92" font-size="6.4" text-anchor="end" fill="#1e1e1e" stroke="#1e1e1e" stroke-width="0.14">10</text>
<line x1="556.9" y1="478.7" x2="683.9" y2="478.7" stroke="#222" stroke-width="0.8"/>
<line x1="565" y1="478.7" x2="565" y2="481.5" stroke="#222" stroke-width="0.8"/>
<line x1="578.8" y1="478.7" x2="578.8" y2="481.5" stroke="#222" stroke-width="0.8"/>
<line x1="593" y1="478.7" x2="593" y2="481.5" stroke="#222" stroke-width="0.8"/>
<line x1="607.3" y1="478.7" x2="607.3" y2="481.5" stroke="#222" stroke-width="0.8"/>
<line x1="621.5" y1="478.7" x2="621.5" y2="481.5" stroke="#222" stroke-width="0.8"/>
<line x1="635.3" y1="478.7" x2="635.3" y2="481.5" stroke="#222" stroke-width="0.8"/>
<line x1="649.3" y1="478.7" x2="649.3" y2="481.5" stroke="#222" stroke-width="0.8"/>
<line x1="663.5" y1="478.7" x2="663.5" y2="481.5" stroke="#222" stroke-width="0.8"/>
<line x1="677.3" y1="478.7" x2="677.3" y2="481.5" stroke="#222" stroke-width="0.8"/>
<text x="565" y="488.52" font-size="6.4" text-anchor="middle" fill="#1e1e1e" stroke="#1e1e1e" stroke-width="0.14">0</text>
<text x="578.8" y="488.52" font-size="6.4" text-anchor="middle" fill="#1e1e1e" stroke="#1e1e1e" stroke-width="0.14">2</text>
<text x="593" y="488.52" font-size="6.4" text-anchor="middle" fill="#1e1e1e" stroke="#1e1e1e" stroke-width="0.14">4</text>
<text x="607.3" y="488.52" font-size="6.4" text-anchor="middle" fill="#1e1e1e" stroke="#1e1e1e" stroke-width="0.14">6</text>
<text x="621.5" y="488.52" font-size="6.4" text-anchor="middle" fill="#1e1e1e" stroke="#1e1e1e" stroke-width="0.14">8</text>
<text x="635.3" y="488.52" font-size="6.4" text-anchor="middle" fill="#1e1e1e" stroke="#1e1e1e" stroke-width="0.14">9</text>
<text x="649.3" y="488.52" font-size="6.4" text-anchor="middle" fill="#1e1e1e" stroke="#1e1e1e" stroke-width="0.14">10</text>
<text x="663.5" y="488.52" font-size="6.4" text-anchor="middle" fill="#1e1e1e" stroke="#1e1e1e" stroke-width="0.14">11</text>
<text x="677.3" y="488.52" font-size="6.4" text-anchor="middle" fill="#1e1e1e" stroke="#1e1e1e" stroke-width="0.14">12</text>
<text x="620.4" y="496.49" font-size="7.2" text-anchor="middle" fill="#1e1e1e" stroke="#1e1e1e" stroke-width="0.14">Week</text>
<text x="539.8" y="436" dy="2.43" font-size="7.0" text-anchor="middle" fill="#1e1e1e" stroke="#1e1e1e" stroke-width="0.14" transform="rotate(-90 539.8 436)">Body weight (g)</text>
<line x1="565" y1="450.97" x2="565" y2="463.98" stroke="#9a9af5" stroke-width="0.6"/>
<line x1="563.2" y1="450.97" x2="566.8" y2="450.97" stroke="#9a9af5" stroke-width="0.6"/>
<line x1="563.2" y1="463.98" x2="566.8" y2="463.98" stroke="#9a9af5" stroke-width="0.6"/>
<line x1="578.8" y1="445.59" x2="578.8" y2="456.91" stroke="#9a9af5" stroke-width="0.6"/>
<line x1="577" y1="445.59" x2="580.6" y2="445.59" stroke="#9a9af5" stroke-width="0.6"/>
<line x1="577" y1="456.91" x2="580.6" y2="456.91" stroke="#9a9af5" stroke-width="0.6"/>
<line x1="593" y1="439.08" x2="593" y2="454.93" stroke="#9a9af5" stroke-width="0.6"/>
<line x1="591.2" y1="439.08" x2="594.8" y2="439.08" stroke="#9a9af5" stroke-width="0.6"/>
<line x1="591.2" y1="454.93" x2="594.8" y2="454.93" stroke="#9a9af5" stroke-width="0.6"/>
<line x1="607.3" y1="430.02" x2="607.3" y2="447" stroke="#9a9af5" stroke-width="0.6"/>
<line x1="605.5" y1="430.02" x2="609.1" y2="430.02" stroke="#9a9af5" stroke-width="0.6"/>
<line x1="605.5" y1="447" x2="609.1" y2="447" stroke="#9a9af5" stroke-width="0.6"/>
<line x1="621.5" y1="427.48" x2="621.5" y2="447.85" stroke="#9a9af5" stroke-width="0.6"/>
<line x1="619.7" y1="427.48" x2="623.3" y2="427.48" stroke="#9a9af5" stroke-width="0.6"/>
<line x1="619.7" y1="447.85" x2="623.3" y2="447.85" stroke="#9a9af5" stroke-width="0.6"/>
<line x1="635.3" y1="421.82" x2="635.3" y2="446.15" stroke="#9a9af5" stroke-width="0.6"/>
<line x1="633.5" y1="421.82" x2="637.1" y2="421.82" stroke="#9a9af5" stroke-width="0.6"/>
<line x1="633.5" y1="446.15" x2="637.1" y2="446.15" stroke="#9a9af5" stroke-width="0.6"/>
<line x1="649.3" y1="420.12" x2="649.3" y2="441.63" stroke="#9a9af5" stroke-width="0.6"/>
<line x1="647.5" y1="420.12" x2="651.1" y2="420.12" stroke="#9a9af5" stroke-width="0.6"/>
<line x1="647.5" y1="441.63" x2="651.1" y2="441.63" stroke="#9a9af5" stroke-width="0.6"/>
<line x1="663.5" y1="419.55" x2="663.5" y2="436.53" stroke="#9a9af5" stroke-width="0.6"/>
<line x1="661.7" y1="419.55" x2="665.3" y2="419.55" stroke="#9a9af5" stroke-width="0.6"/>
<line x1="661.7" y1="436.53" x2="665.3" y2="436.53" stroke="#9a9af5" stroke-width="0.6"/>
<line x1="677.3" y1="417.29" x2="677.3" y2="434.27" stroke="#9a9af5" stroke-width="0.6"/>
<line x1="675.5" y1="417.29" x2="679.1" y2="417.29" stroke="#9a9af5" stroke-width="0.6"/>
<line x1="675.5" y1="434.27" x2="679.1" y2="434.27" stroke="#9a9af5" stroke-width="0.6"/>
<line x1="565" y1="450.4" x2="565" y2="464.55" stroke="#f5a5a5" stroke-width="0.6"/>
<line x1="563.2" y1="450.4" x2="566.8" y2="450.4" stroke="#f5a5a5" stroke-width="0.6"/>
<line x1="563.2" y1="464.55" x2="566.8" y2="464.55" stroke="#f5a5a5" stroke-width="0.6"/>
<line x1="578.8" y1="443.61" x2="578.8" y2="450.4" stroke="#f5a5a5" stroke-width="0.6"/>
<line x1="577" y1="443.61" x2="580.6" y2="443.61" stroke="#f5a5a5" stroke-width="0.6"/>
<line x1="577" y1="450.4" x2="580.6" y2="450.4" stroke="#f5a5a5" stroke-width="0.6"/>
<line x1="593" y1="438.23" x2="593" y2="447.29" stroke="#f5a5a5" stroke-width="0.6"/>
<line x1="591.2" y1="438.23" x2="594.8" y2="438.23" stroke="#f5a5a5" stroke-width="0.6"/>
<line x1="591.2" y1="447.29" x2="594.8" y2="447.29" stroke="#f5a5a5" stroke-width="0.6"/>
<line x1="607.3" y1="429.74" x2="607.3" y2="443.89" stroke="#f5a5a5" stroke-width="0.6"/>
<line x1="605.5" y1="429.74" x2="609.1" y2="429.74" stroke="#f5a5a5" stroke-width="0.6"/>
<line x1="605.5" y1="443.89" x2="609.1" y2="443.89" stroke="#f5a5a5" stroke-width="0.6"/>
<line x1="621.5" y1="433.42" x2="621.5" y2="441.91" stroke="#f5a5a5" stroke-width="0.6"/>
<line x1="619.7" y1="433.42" x2="623.3" y2="433.42" stroke="#f5a5a5" stroke-width="0.6"/>
<line x1="619.7" y1="441.91" x2="623.3" y2="441.91" stroke="#f5a5a5" stroke-width="0.6"/>
<line x1="635.3" y1="427.76" x2="635.3" y2="439.08" stroke="#f5a5a5" stroke-width="0.6"/>
<line x1="633.5" y1="427.76" x2="637.1" y2="427.76" stroke="#f5a5a5" stroke-width="0.6"/>
<line x1="633.5" y1="439.08" x2="637.1" y2="439.08" stroke="#f5a5a5" stroke-width="0.6"/>
<line x1="649.3" y1="421.25" x2="649.3" y2="438.23" stroke="#f5a5a5" stroke-width="0.6"/>
<line x1="647.5" y1="421.25" x2="651.1" y2="421.25" stroke="#f5a5a5" stroke-width="0.6"/>
<line x1="647.5" y1="438.23" x2="651.1" y2="438.23" stroke="#f5a5a5" stroke-width="0.6"/>
<line x1="663.5" y1="417.29" x2="663.5" y2="436.53" stroke="#f5a5a5" stroke-width="0.6"/>
<line x1="661.7" y1="417.29" x2="665.3" y2="417.29" stroke="#f5a5a5" stroke-width="0.6"/>
<line x1="661.7" y1="436.53" x2="665.3" y2="436.53" stroke="#f5a5a5" stroke-width="0.6"/>
<line x1="677.3" y1="415.31" x2="677.3" y2="433.42" stroke="#f5a5a5" stroke-width="0.6"/>
<line x1="675.5" y1="415.31" x2="679.1" y2="415.31" stroke="#f5a5a5" stroke-width="0.6"/>
<line x1="675.5" y1="433.42" x2="679.1" y2="433.42" stroke="#f5a5a5" stroke-width="0.6"/>
<polyline points="565,457.48 578.8,451.25 593,447 607.3,438.51 621.5,437.67 635.3,433.99 649.3,430.87 663.5,428.04 677.3,425.78" fill="none" stroke="#5656EE" stroke-width="0.7"/>
<polyline points="565,457.48 578.8,447 593,442.76 607.3,436.82 621.5,437.67 635.3,433.42 649.3,429.74 663.5,426.91 677.3,424.36" fill="none" stroke="#F77B7B" stroke-width="0.7"/>
<polygon points="565,455.48 563,459.08 567,459.08" fill="#5656EE"/>
<polygon points="578.8,449.25 576.8,452.85 580.8,452.85" fill="#5656EE"/>
<polygon points="593,445 591,448.6 595,448.6" fill="#5656EE"/>
<polygon points="607.3,436.51 605.3,440.11 609.3,440.11" fill="#5656EE"/>
<polygon points="621.5,435.67 619.5,439.27 623.5,439.27" fill="#5656EE"/>
<polygon points="635.3,431.99 633.3,435.59 637.3,435.59" fill="#5656EE"/>
<polygon points="649.3,428.87 647.3,432.47 651.3,432.47" fill="#5656EE"/>
<polygon points="663.5,426.04 661.5,429.64 665.5,429.64" fill="#5656EE"/>
<polygon points="677.3,423.78 675.3,427.38 679.3,427.38" fill="#5656EE"/>
<rect x="563.15" y="455.62" width="3.7" height="3.7" fill="#F77B7B"/>
<rect x="576.95" y="445.15" width="3.7" height="3.7" fill="#F77B7B"/>
<rect x="591.15" y="440.91" width="3.7" height="3.7" fill="#F77B7B"/>
<rect x="605.45" y="434.97" width="3.7" height="3.7" fill="#F77B7B"/>
<rect x="619.65" y="435.81" width="3.7" height="3.7" fill="#F77B7B"/>
<rect x="633.45" y="431.57" width="3.7" height="3.7" fill="#F77B7B"/>
<rect x="647.45" y="427.89" width="3.7" height="3.7" fill="#F77B7B"/>
<rect x="661.65" y="425.06" width="3.7" height="3.7" fill="#F77B7B"/>
<rect x="675.45" y="422.51" width="3.7" height="3.7" fill="#F77B7B"/>
<line x1="562.4" y1="401.4" x2="571.1" y2="401.4" stroke="#F77B7B" stroke-width="0.7"/>
<rect x="564.85" y="399.55" width="3.7" height="3.7" fill="#F77B7B"/>
<line x1="562.4" y1="410.2" x2="571.1" y2="410.2" stroke="#5656EE" stroke-width="0.7"/>
<polygon points="566.7,408.2 564.7,411.8 568.7,411.8" fill="#5656EE"/>
<text x="575.5" y="403.44" font-size="5.9" text-anchor="start" fill="#1e1e1e" stroke="#1e1e1e" stroke-width="0.14">AAV-Fto-KD</text>
<text x="575.5" y="412.24" font-size="5.9" text-anchor="start" fill="#1e1e1e" stroke="#1e1e1e" stroke-width="0.14">AAV-Fto-KD+MIAA</text>
<text x="678.4" y="464.74" font-size="5.9" text-anchor="end" fill="#1e1e1e" stroke="#1e1e1e" stroke-width="0.14">Group:P=0.7523 (n=6)</text>
<text x="678.4" y="473.54" font-size="5.9" text-anchor="end" fill="#1e1e1e" stroke="#1e1e1e" stroke-width="0.14">Group:Week:P=0.9277</text>
<text x="7" y="523.37" font-size="8" text-anchor="middle" fill="#111" stroke="#111" stroke-width="0.14" font-weight="bold">l</text>
<line x1="28.8" y1="538" x2="28.8" y2="622.4" stroke="#222" stroke-width="0.8"/>
<line x1="25.8" y1="538" x2="28.8" y2="538" stroke="#222" stroke-width="0.8"/>
<text x="25.4" y="540.22" font-size="6.4" text-anchor="end" fill="#1e1e1e" stroke="#1e1e1e" stroke-width="0.14">20</text>
<line x1="25.8" y1="559.1" x2="28.8" y2="559.1" stroke="#222" stroke-width="0.8"/>
<text x="25.4" y="561.32" font-size="6.4" text-anchor="end" fill="#1e1e1e" stroke="#1e1e1e" stroke-width="0.14">16</text>
<line x1="25.8" y1="580.2" x2="28.8" y2="580.2" stroke="#222" stroke-width="0.8"/>
<text x="25.4" y="582.42" font-size="6.4" text-anchor="end" fill="#1e1e1e" stroke="#1e1e1e" stroke-width="0.14">12</text>
<line x1="25.8" y1="601.3" x2="28.8" y2="601.3" stroke="#222" stroke-width="0.8"/>
<text x="25.4" y="603.52" font-size="6.4" text-anchor="end" fill="#1e1e1e" stroke="#1e1e1e" stroke-width="0.14">8</text>
<line x1="25.8" y1="622.4" x2="28.8" y2="622.4" stroke="#222" stroke-width="0.8"/>
<text x="25.4" y="624.62" font-size="6.4" text-anchor="end" fill="#1e1e1e" stroke="#1e1e1e" stroke-width="0.14">4</text>
<rect x="37.2" y="585.4" width="16.3" height="37" fill="#FF7B7B"/>
<rect x="61.4" y="584" width="16.5" height="38.4" fill="#5757F8"/>
<line x1="28.8" y1="622.4" x2="86.2" y2="622.4" stroke="#222" stroke-width="0.8"/>
<line x1="45.4" y1="622.4" x2="45.4" y2="625.2" stroke="#222" stroke-width="0.8"/>
<line x1="69.5" y1="622.4" x2="69.5" y2="625.2" stroke="#222" stroke-width="0.8"/>
<line x1="45.4" y1="585.4" x2="45.4" y2="572.8" stroke="#333" stroke-width="0.6"/>
<line x1="42.6" y1="572.8" x2="48.2" y2="572.8" stroke="#333" stroke-width="0.6"/>
<line x1="69.5" y1="584" x2="69.5" y2="570.4" stroke="#333" stroke-width="0.6"/>
<line x1="66.7" y1="570.4" x2="72.3" y2="570.4" stroke="#333" stroke-width="0.6"/>
<polyline points="45.4,555.9 45.4,553 69.5,553 69.5,555.9" fill="none" stroke="#8a8a8a" stroke-width="0.6"/>
<text x="57.5" y="550.31" font-size="6.1" text-anchor="middle" fill="#1e1e1e" stroke="#1e1e1e" stroke-width="0.14"><tspan font-style="italic">P</tspan>=0.8551</text>
<circle cx="45.4" cy="563.6" r="1.38" fill="#fff" stroke="#222" stroke-width="0.5"/>
<circle cx="45.4" cy="576.9" r="1.38" fill="#fff" stroke="#222" stroke-width="0.5"/>
<circle cx="45.4" cy="587.5" r="1.38" fill="#fff" stroke="#222" stroke-width="0.5"/>
<circle cx="40.3" cy="593.4" r="1.38" fill="#fff" stroke="#222" stroke-width="0.5"/>
<circle cx="45.4" cy="595.1" r="1.38" fill="#fff" stroke="#222" stroke-width="0.5"/>
<circle cx="50.8" cy="595.1" r="1.38" fill="#fff" stroke="#222" stroke-width="0.5"/>
<circle cx="69.5" cy="559.2" r="1.38" fill="#fff" stroke="#222" stroke-width="0.5"/>
<circle cx="69.5" cy="578.1" r="1.38" fill="#fff" stroke="#222" stroke-width="0.5"/>
<circle cx="69.5" cy="586.3" r="1.38" fill="#fff" stroke="#222" stroke-width="0.5"/>
<circle cx="66.6" cy="590.2" r="1.38" fill="#fff" stroke="#222" stroke-width="0.5"/>
<circle cx="71.7" cy="591.6" r="1.38" fill="#fff" stroke="#222" stroke-width="0.5"/>
<circle cx="69.5" cy="598.1" r="1.38" fill="#fff" stroke="#222" stroke-width="0.5"/>
<text x="45.2" y="628.8" dy="2.08" font-size="6.0" text-anchor="end" fill="#1e1e1e" stroke="#1e1e1e" stroke-width="0.14" transform="rotate(-46 45.2 628.8)">AAV-<tspan font-style="italic">Fto-KD</tspan></text>
<text x="69.4" y="628.8" dy="2.08" font-size="6.0" text-anchor="end" fill="#1e1e1e" stroke="#1e1e1e" stroke-width="0.14" transform="rotate(-46 69.4 628.8)">AAV-<tspan font-style="italic">Fto-KD</tspan>+MIAA</text>
<text x="12" y="580.4" dy="2.43" font-size="7.0" text-anchor="middle" fill="#1e1e1e" stroke="#1e1e1e" stroke-width="0.14" transform="rotate(-90 12 580.4)">Body weight gain (g)</text>
<text x="121.3" y="523.37" font-size="8" text-anchor="middle" fill="#111" stroke="#111" stroke-width="0.14" font-weight="bold">m</text>
<line x1="131.25" y1="540.5" x2="259.5" y2="540.5" stroke="#8a8a8a" stroke-width="0.8"/>
<line x1="259.5" y1="540.5" x2="259.5" y2="625" stroke="#8a8a8a" stroke-width="0.8"/>
<line x1="131.25" y1="540.5" x2="131.25" y2="625" stroke="#222" stroke-width="0.8"/>
<line x1="128.25" y1="540.5" x2="131.25" y2="540.5" stroke="#222" stroke-width="0.8"/>
<text x="127.85" y="542.72" font-size="6.4" text-anchor="end" fill="#1e1e1e" stroke="#1e1e1e" stroke-width="0.14">40</text>
<line x1="128.25" y1="561.62" x2="131.25" y2="561.62" stroke="#222" stroke-width="0.8"/>
<text x="127.85" y="563.84" font-size="6.4" text-anchor="end" fill="#1e1e1e" stroke="#1e1e1e" stroke-width="0.14">30</text>
<line x1="128.25" y1="582.75" x2="131.25" y2="582.75" stroke="#222" stroke-width="0.8"/>
<text x="127.85" y="584.97" font-size="6.4" text-anchor="end" fill="#1e1e1e" stroke="#1e1e1e" stroke-width="0.14">20</text>
<line x1="128.25" y1="603.88" x2="131.25" y2="603.88" stroke="#222" stroke-width="0.8"/>
<text x="127.85" y="606.09" font-size="6.4" text-anchor="end" fill="#1e1e1e" stroke="#1e1e1e" stroke-width="0.14">10</text>
<line x1="128.25" y1="625" x2="131.25" y2="625" stroke="#222" stroke-width="0.8"/>
<text x="127.85" y="627.22" font-size="6.4" text-anchor="end" fill="#1e1e1e" stroke="#1e1e1e" stroke-width="0.14">0</text>
<line x1="131.25" y1="625" x2="259.5" y2="625" stroke="#222" stroke-width="0.8"/>
<line x1="145.5" y1="625" x2="145.5" y2="627.8" stroke="#222" stroke-width="0.8"/>
<line x1="171.25" y1="625" x2="171.25" y2="627.8" stroke="#222" stroke-width="0.8"/>
<line x1="196.25" y1="625" x2="196.25" y2="627.8" stroke="#222" stroke-width="0.8"/>
<line x1="221.75" y1="625" x2="221.75" y2="627.8" stroke="#222" stroke-width="0.8"/>
<line x1="247.5" y1="625" x2="247.5" y2="627.8" stroke="#222" stroke-width="0.8"/>
<text x="145.5" y="634.82" font-size="6.4" text-anchor="middle" fill="#1e1e1e" stroke="#1e1e1e" stroke-width="0.14">0</text>
<text x="171.25" y="634.82" font-size="6.4" text-anchor="middle" fill="#1e1e1e" stroke="#1e1e1e" stroke-width="0.14">30</text>
<text x="196.25" y="634.82" font-size="6.4" text-anchor="middle" fill="#1e1e1e" stroke="#1e1e1e" stroke-width="0.14">60</text>
<text x="221.75" y="634.82" font-size="6.4" text-anchor="middle" fill="#1e1e1e" stroke="#1e1e1e" stroke-width="0.14">90</text>
<text x="247.5" y="634.82" font-size="6.4" text-anchor="middle" fill="#1e1e1e" stroke="#1e1e1e" stroke-width="0.14">120</text>
<text x="196.8" y="645.73" font-size="7" text-anchor="middle" fill="#1e1e1e" stroke="#1e1e1e" stroke-width="0.14">Time (min)</text>
<text x="115" y="583.8" dy="2.43" font-size="7.0" text-anchor="middle" fill="#1e1e1e" stroke="#1e1e1e" stroke-width="0.14" transform="rotate(-90 115 583.8)">Glucose level of GTT (mmol/L)</text>
<line x1="145.5" y1="614.86" x2="145.5" y2="612.33" stroke="#9a9af5" stroke-width="0.6"/>
<line x1="143.7" y1="614.86" x2="147.3" y2="614.86" stroke="#9a9af5" stroke-width="0.6"/>
<line x1="143.7" y1="612.33" x2="147.3" y2="612.33" stroke="#9a9af5" stroke-width="0.6"/>
<line x1="171.25" y1="578.52" x2="171.25" y2="559.51" stroke="#9a9af5" stroke-width="0.6"/>
<line x1="169.45" y1="578.52" x2="173.05" y2="578.52" stroke="#9a9af5" stroke-width="0.6"/>
<line x1="169.45" y1="559.51" x2="173.05" y2="559.51" stroke="#9a9af5" stroke-width="0.6"/>
<line x1="196.25" y1="585.92" x2="196.25" y2="557.4" stroke="#9a9af5" stroke-width="0.6"/>
<line x1="194.45" y1="585.92" x2="198.05" y2="585.92" stroke="#9a9af5" stroke-width="0.6"/>
<line x1="194.45" y1="557.4" x2="198.05" y2="557.4" stroke="#9a9af5" stroke-width="0.6"/>
<line x1="221.75" y1="599.65" x2="221.75" y2="581.69" stroke="#9a9af5" stroke-width="0.6"/>
<line x1="219.95" y1="599.65" x2="223.55" y2="599.65" stroke="#9a9af5" stroke-width="0.6"/>
<line x1="219.95" y1="581.69" x2="223.55" y2="581.69" stroke="#9a9af5" stroke-width="0.6"/>
<line x1="247.5" y1="604.93" x2="247.5" y2="593.31" stroke="#9a9af5" stroke-width="0.6"/>
<line x1="245.7" y1="604.93" x2="249.3" y2="604.93" stroke="#9a9af5" stroke-width="0.6"/>
<line x1="245.7" y1="593.31" x2="249.3" y2="593.31" stroke="#9a9af5" stroke-width="0.6"/>
<line x1="145.5" y1="614.44" x2="145.5" y2="608.52" stroke="#f5a5a5" stroke-width="0.6"/>
<line x1="143.7" y1="614.44" x2="147.3" y2="614.44" stroke="#f5a5a5" stroke-width="0.6"/>
<line x1="143.7" y1="608.52" x2="147.3" y2="608.52" stroke="#f5a5a5" stroke-width="0.6"/>
<line x1="171.25" y1="581.69" x2="171.25" y2="559.51" stroke="#f5a5a5" stroke-width="0.6"/>
<line x1="169.45" y1="581.69" x2="173.05" y2="581.69" stroke="#f5a5a5" stroke-width="0.6"/>
<line x1="169.45" y1="559.51" x2="173.05" y2="559.51" stroke="#f5a5a5" stroke-width="0.6"/>
<line x1="196.25" y1="590.14" x2="196.25" y2="565.85" stroke="#f5a5a5" stroke-width="0.6"/>
<line x1="194.45" y1="590.14" x2="198.05" y2="590.14" stroke="#f5a5a5" stroke-width="0.6"/>
<line x1="194.45" y1="565.85" x2="198.05" y2="565.85" stroke="#f5a5a5" stroke-width="0.6"/>
<line x1="221.75" y1="600.07" x2="221.75" y2="577.26" stroke="#f5a5a5" stroke-width="0.6"/>
<line x1="219.95" y1="600.07" x2="223.55" y2="600.07" stroke="#f5a5a5" stroke-width="0.6"/>
<line x1="219.95" y1="577.26" x2="223.55" y2="577.26" stroke="#f5a5a5" stroke-width="0.6"/>
<line x1="247.5" y1="608.1" x2="247.5" y2="585.5" stroke="#f5a5a5" stroke-width="0.6"/>
<line x1="245.7" y1="608.1" x2="249.3" y2="608.1" stroke="#f5a5a5" stroke-width="0.6"/>
<line x1="245.7" y1="585.5" x2="249.3" y2="585.5" stroke="#f5a5a5" stroke-width="0.6"/>
<polyline points="145.5,613.8 171.25,569.23 196.25,572.19 221.75,591.62 247.5,599.65" fill="none" stroke="#5656EE" stroke-width="0.7"/>
<polyline points="145.5,611.69 171.25,570.5 196.25,578.52 221.75,588.66 247.5,596.9" fill="none" stroke="#F77B7B" stroke-width="0.7"/>
<polygon points="145.5,611.8 143.5,615.4 147.5,615.4" fill="#5656EE"/>
<polygon points="171.25,567.23 169.25,570.83 173.25,570.83" fill="#5656EE"/>
<polygon points="196.25,570.19 194.25,573.79 198.25,573.79" fill="#5656EE"/>
<polygon points="221.75,589.62 219.75,593.22 223.75,593.22" fill="#5656EE"/>
<polygon points="247.5,597.65 245.5,601.25 249.5,601.25" fill="#5656EE"/>
<rect x="143.65" y="609.84" width="3.7" height="3.7" fill="#F77B7B"/>
<rect x="169.4" y="568.65" width="3.7" height="3.7" fill="#F77B7B"/>
<rect x="194.4" y="576.67" width="3.7" height="3.7" fill="#F77B7B"/>
<rect x="219.9" y="586.81" width="3.7" height="3.7" fill="#F77B7B"/>
<rect x="245.65" y="595.05" width="3.7" height="3.7" fill="#F77B7B"/>
<line x1="137" y1="546.3" x2="145.5" y2="546.3" stroke="#F77B7B" stroke-width="0.7"/>
<rect x="139.45" y="544.45" width="3.7" height="3.7" fill="#F77B7B"/>
<line x1="137" y1="553.8" x2="145.5" y2="553.8" stroke="#5656EE" stroke-width="0.7"/>
<polygon points="141.3,551.8 139.3,555.4 143.3,555.4" fill="#5656EE"/>
<text x="150.5" y="548.34" font-size="5.9" text-anchor="start" fill="#1e1e1e" stroke="#1e1e1e" stroke-width="0.14" font-style="italic">AAV-Fto-KD</text>
<text x="150.5" y="555.84" font-size="5.9" text-anchor="start" fill="#1e1e1e" stroke="#1e1e1e" stroke-width="0.14" font-style="italic">AAV-Fto-KD+MIAA</text>
<text x="164.2" y="611.64" font-size="5.9" text-anchor="start" fill="#1e1e1e" stroke="#1e1e1e" stroke-width="0.14">Group:<tspan font-style="italic">P</tspan>=0.9473</text>
<text x="163" y="620.14" font-size="5.9" text-anchor="start" fill="#1e1e1e" stroke="#1e1e1e" stroke-width="0.14">Group:Time:<tspan font-style="italic">P</tspan>=0.4905</text>
<text x="287" y="523.37" font-size="8" text-anchor="middle" fill="#111" stroke="#111" stroke-width="0.14" font-weight="bold">n</text>
<line x1="311.25" y1="538.25" x2="311.25" y2="623" stroke="#222" stroke-width="0.8"/>
<line x1="308.25" y1="538.25" x2="311.25" y2="538.25" stroke="#222" stroke-width="0.8"/>
<text x="307.85" y="540.47" font-size="6.4" text-anchor="end" fill="#1e1e1e" stroke="#1e1e1e" stroke-width="0.14">3500</text>
<line x1="308.25" y1="566.5" x2="311.25" y2="566.5" stroke="#222" stroke-width="0.8"/>
<text x="307.85" y="568.72" font-size="6.4" text-anchor="end" fill="#1e1e1e" stroke="#1e1e1e" stroke-width="0.14">2500</text>
<line x1="308.25" y1="594.75" x2="311.25" y2="594.75" stroke="#222" stroke-width="0.8"/>
<text x="307.85" y="596.97" font-size="6.4" text-anchor="end" fill="#1e1e1e" stroke="#1e1e1e" stroke-width="0.14">1500</text>
<line x1="308.25" y1="623" x2="311.25" y2="623" stroke="#222" stroke-width="0.8"/>
<text x="307.85" y="625.22" font-size="6.4" text-anchor="end" fill="#1e1e1e" stroke="#1e1e1e" stroke-width="0.14">500</text>
<rect x="319.25" y="573.25" width="16.25" height="49.75" fill="#FF7B7B"/>
<rect x="343.25" y="572" width="16.25" height="51" fill="#5757F8"/>
<line x1="311.25" y1="623" x2="367.5" y2="623" stroke="#222" stroke-width="0.8"/>
<line x1="327.4" y1="623" x2="327.4" y2="625.8" stroke="#222" stroke-width="0.8"/>
<line x1="351.4" y1="623" x2="351.4" y2="625.8" stroke="#222" stroke-width="0.8"/>
<line x1="327.4" y1="573.25" x2="327.4" y2="558.3" stroke="#333" stroke-width="0.6"/>
<line x1="324.6" y1="558.3" x2="330.2" y2="558.3" stroke="#333" stroke-width="0.6"/>
<line x1="351.4" y1="572" x2="351.4" y2="560.5" stroke="#333" stroke-width="0.6"/>
<line x1="348.6" y1="560.5" x2="354.2" y2="560.5" stroke="#333" stroke-width="0.6"/>
<polyline points="327.4,546.5 327.4,543.3 351.4,543.3 351.4,546.5" fill="none" stroke="#8a8a8a" stroke-width="0.6"/>
<text x="339.5" y="541.71" font-size="6.1" text-anchor="middle" fill="#1e1e1e" stroke="#1e1e1e" stroke-width="0.14"><tspan font-style="italic">P</tspan>=0.8581</text>
<circle cx="327.4" cy="548" r="1.38" fill="#fff" stroke="#222" stroke-width="0.5"/>
<circle cx="327.4" cy="561" r="1.38" fill="#fff" stroke="#222" stroke-width="0.5"/>
<circle cx="322" cy="582" r="1.38" fill="#fff" stroke="#222" stroke-width="0.5"/>
<circle cx="327.4" cy="580.5" r="1.38" fill="#fff" stroke="#222" stroke-width="0.5"/>
<circle cx="327.4" cy="584.5" r="1.38" fill="#fff" stroke="#222" stroke-width="0.5"/>
<circle cx="333" cy="585" r="1.38" fill="#fff" stroke="#222" stroke-width="0.5"/>
<circle cx="351.4" cy="561" r="1.38" fill="#fff" stroke="#222" stroke-width="0.5"/>
<circle cx="351.4" cy="566.5" r="1.38" fill="#fff" stroke="#222" stroke-width="0.5"/>
<circle cx="351.4" cy="570.5" r="1.38" fill="#fff" stroke="#222" stroke-width="0.5"/>
<circle cx="351.4" cy="582.5" r="1.38" fill="#fff" stroke="#222" stroke-width="0.5"/>
<circle cx="351.4" cy="589" r="1.38" fill="#fff" stroke="#222" stroke-width="0.5"/>
<text x="327.2" y="628.8" dy="2.08" font-size="6.0" text-anchor="end" fill="#1e1e1e" stroke="#1e1e1e" stroke-width="0.14" transform="rotate(-46 327.2 628.8)">AAV-<tspan font-style="italic">Fto-KD</tspan></text>
<text x="351.3" y="628.8" dy="2.08" font-size="6.0" text-anchor="end" fill="#1e1e1e" stroke="#1e1e1e" stroke-width="0.14" transform="rotate(-46 351.3 628.8)">AAV-<tspan font-style="italic">Fto-KD</tspan>+MIAA</text>
<text x="287" y="580.5" dy="2.43" font-size="7.0" text-anchor="middle" fill="#1e1e1e" stroke="#1e1e1e" stroke-width="0.14" transform="rotate(-90 287 580.5)">AUC during GTT</text>
<text x="402.6" y="523.37" font-size="8" text-anchor="middle" fill="#111" stroke="#111" stroke-width="0.14" font-weight="bold">o</text>
<line x1="418.75" y1="538.75" x2="546.25" y2="538.75" stroke="#8a8a8a" stroke-width="0.8"/>
<line x1="546.25" y1="538.75" x2="546.25" y2="623.75" stroke="#8a8a8a" stroke-width="0.8"/>
<line x1="418.75" y1="538.75" x2="418.75" y2="623.75" stroke="#222" stroke-width="0.8"/>
<line x1="415.75" y1="538.75" x2="418.75" y2="538.75" stroke="#222" stroke-width="0.8"/>
<text x="415.35" y="540.97" font-size="6.4" text-anchor="end" fill="#1e1e1e" stroke="#1e1e1e" stroke-width="0.14">15</text>
<line x1="415.75" y1="567.08" x2="418.75" y2="567.08" stroke="#222" stroke-width="0.8"/>
<text x="415.35" y="569.3" font-size="6.4" text-anchor="end" fill="#1e1e1e" stroke="#1e1e1e" stroke-width="0.14">10</text>
<line x1="415.75" y1="595.42" x2="418.75" y2="595.42" stroke="#222" stroke-width="0.8"/>
<text x="415.35" y="597.63" font-size="6.4" text-anchor="end" fill="#1e1e1e" stroke="#1e1e1e" stroke-width="0.14">5</text>
<line x1="415.75" y1="623.75" x2="418.75" y2="623.75" stroke="#222" stroke-width="0.8"/>
<text x="415.35" y="625.97" font-size="6.4" text-anchor="end" fill="#1e1e1e" stroke="#1e1e1e" stroke-width="0.14">0</text>
<line x1="418.75" y1="623.75" x2="546.25" y2="623.75" stroke="#222" stroke-width="0.8"/>
<line x1="431.75" y1="623.75" x2="431.75" y2="626.55" stroke="#222" stroke-width="0.8"/>
<line x1="457.5" y1="623.75" x2="457.5" y2="626.55" stroke="#222" stroke-width="0.8"/>
<line x1="483" y1="623.75" x2="483" y2="626.55" stroke="#222" stroke-width="0.8"/>
<line x1="508" y1="623.75" x2="508" y2="626.55" stroke="#222" stroke-width="0.8"/>
<line x1="533.75" y1="623.75" x2="533.75" y2="626.55" stroke="#222" stroke-width="0.8"/>
<text x="431.75" y="634.02" font-size="6.4" text-anchor="middle" fill="#1e1e1e" stroke="#1e1e1e" stroke-width="0.14">0</text>
<text x="457.5" y="634.02" font-size="6.4" text-anchor="middle" fill="#1e1e1e" stroke="#1e1e1e" stroke-width="0.14">30</text>
<text x="483" y="634.02" font-size="6.4" text-anchor="middle" fill="#1e1e1e" stroke="#1e1e1e" stroke-width="0.14">60</text>
<text x="508" y="634.02" font-size="6.4" text-anchor="middle" fill="#1e1e1e" stroke="#1e1e1e" stroke-width="0.14">90</text>
<text x="533.75" y="634.02" font-size="6.4" text-anchor="middle" fill="#1e1e1e" stroke="#1e1e1e" stroke-width="0.14">120</text>
<text x="483.3" y="643.73" font-size="7" text-anchor="middle" fill="#1e1e1e" stroke="#1e1e1e" stroke-width="0.14">Time (min)</text>
<text x="401.3" y="581.3" dy="2.43" font-size="7.0" text-anchor="middle" fill="#1e1e1e" stroke="#1e1e1e" stroke-width="0.14" transform="rotate(-90 401.3 581.3)">Glucose level of ITT (mmol/L)</text>
<line x1="431.75" y1="589.75" x2="431.75" y2="556.88" stroke="#9a9af5" stroke-width="0.6"/>
<line x1="429.95" y1="589.75" x2="433.55" y2="589.75" stroke="#9a9af5" stroke-width="0.6"/>
<line x1="429.95" y1="556.88" x2="433.55" y2="556.88" stroke="#9a9af5" stroke-width="0.6"/>
<line x1="457.5" y1="603.35" x2="457.5" y2="595.98" stroke="#9a9af5" stroke-width="0.6"/>
<line x1="455.7" y1="603.35" x2="459.3" y2="603.35" stroke="#9a9af5" stroke-width="0.6"/>
<line x1="455.7" y1="595.98" x2="459.3" y2="595.98" stroke="#9a9af5" stroke-width="0.6"/>
<line x1="483" y1="612.42" x2="483" y2="603.92" stroke="#9a9af5" stroke-width="0.6"/>
<line x1="481.2" y1="612.42" x2="484.8" y2="612.42" stroke="#9a9af5" stroke-width="0.6"/>
<line x1="481.2" y1="603.92" x2="484.8" y2="603.92" stroke="#9a9af5" stroke-width="0.6"/>
<line x1="508" y1="612.98" x2="508" y2="595.98" stroke="#9a9af5" stroke-width="0.6"/>
<line x1="506.2" y1="612.98" x2="509.8" y2="612.98" stroke="#9a9af5" stroke-width="0.6"/>
<line x1="506.2" y1="595.98" x2="509.8" y2="595.98" stroke="#9a9af5" stroke-width="0.6"/>
<line x1="533.75" y1="606.75" x2="533.75" y2="583.52" stroke="#9a9af5" stroke-width="0.6"/>
<line x1="531.95" y1="606.75" x2="535.55" y2="606.75" stroke="#9a9af5" stroke-width="0.6"/>
<line x1="531.95" y1="583.52" x2="535.55" y2="583.52" stroke="#9a9af5" stroke-width="0.6"/>
<line x1="431.75" y1="584.65" x2="431.75" y2="546.68" stroke="#f5a5a5" stroke-width="0.6"/>
<line x1="429.95" y1="584.65" x2="433.55" y2="584.65" stroke="#f5a5a5" stroke-width="0.6"/>
<line x1="429.95" y1="546.68" x2="433.55" y2="546.68" stroke="#f5a5a5" stroke-width="0.6"/>
<line x1="457.5" y1="604.48" x2="457.5" y2="595.42" stroke="#f5a5a5" stroke-width="0.6"/>
<line x1="455.7" y1="604.48" x2="459.3" y2="604.48" stroke="#f5a5a5" stroke-width="0.6"/>
<line x1="455.7" y1="595.42" x2="459.3" y2="595.42" stroke="#f5a5a5" stroke-width="0.6"/>
<line x1="483" y1="609.02" x2="483" y2="597.68" stroke="#f5a5a5" stroke-width="0.6"/>
<line x1="481.2" y1="609.02" x2="484.8" y2="609.02" stroke="#f5a5a5" stroke-width="0.6"/>
<line x1="481.2" y1="597.68" x2="484.8" y2="597.68" stroke="#f5a5a5" stroke-width="0.6"/>
<line x1="508" y1="607.88" x2="508" y2="587.48" stroke="#f5a5a5" stroke-width="0.6"/>
<line x1="506.2" y1="607.88" x2="509.8" y2="607.88" stroke="#f5a5a5" stroke-width="0.6"/>
<line x1="506.2" y1="587.48" x2="509.8" y2="587.48" stroke="#f5a5a5" stroke-width="0.6"/>
<line x1="533.75" y1="605.05" x2="533.75" y2="588.62" stroke="#f5a5a5" stroke-width="0.6"/>
<line x1="531.95" y1="605.05" x2="535.55" y2="605.05" stroke="#f5a5a5" stroke-width="0.6"/>
<line x1="531.95" y1="588.62" x2="535.55" y2="588.62" stroke="#f5a5a5" stroke-width="0.6"/>
<polyline points="431.75,573.88 457.5,600.52 483,607.88 508,604.48 533.75,595.42" fill="none" stroke="#5656EE" stroke-width="0.7"/>
<polyline points="431.75,565.95 457.5,599.95 483,603.35 508,597.68 533.75,596.55" fill="none" stroke="#F77B7B" stroke-width="0.7"/>
<polygon points="431.75,571.88 429.75,575.48 433.75,575.48" fill="#5656EE"/>
<polygon points="457.5,598.52 455.5,602.12 459.5,602.12" fill="#5656EE"/>
<polygon points="483,605.88 481,609.48 485,609.48" fill="#5656EE"/>
<polygon points="508,602.48 506,606.08 510,606.08" fill="#5656EE"/>
<polygon points="533.75,593.42 531.75,597.02 535.75,597.02" fill="#5656EE"/>
<rect x="429.9" y="564.1" width="3.7" height="3.7" fill="#F77B7B"/>
<rect x="455.65" y="598.1" width="3.7" height="3.7" fill="#F77B7B"/>
<rect x="481.15" y="601.5" width="3.7" height="3.7" fill="#F77B7B"/>
<rect x="506.15" y="595.83" width="3.7" height="3.7" fill="#F77B7B"/>
<rect x="531.9" y="594.7" width="3.7" height="3.7" fill="#F77B7B"/>
<line x1="468.7" y1="544.5" x2="477.3" y2="544.5" stroke="#F77B7B" stroke-width="0.7"/>
<rect x="471.15" y="542.65" width="3.7" height="3.7" fill="#F77B7B"/>
<line x1="468.7" y1="552.5" x2="477.3" y2="552.5" stroke="#5656EE" stroke-width="0.7"/>
<polygon points="473,550.5 471,554.1 475,554.1" fill="#5656EE"/>
<text x="482" y="546.54" font-size="5.9" text-anchor="start" fill="#1e1e1e" stroke="#1e1e1e" stroke-width="0.14">AAV-<tspan font-style="italic">Fto</tspan>-KD</text>
<text x="482" y="554.54" font-size="5.9" text-anchor="start" fill="#1e1e1e" stroke="#1e1e1e" stroke-width="0.14">AAV-<tspan font-style="italic">Fto</tspan>-KD+MIAA</text>
<text x="422" y="612.04" font-size="5.9" text-anchor="start" fill="#1e1e1e" stroke="#1e1e1e" stroke-width="0.14">Group:<tspan font-style="italic">P</tspan>=0.2124</text>
<text x="422" y="620.14" font-size="5.9" text-anchor="start" fill="#1e1e1e" stroke="#1e1e1e" stroke-width="0.14">Group:Time:<tspan font-style="italic">P</tspan>=0.7409</text>
<text x="579.5" y="523.27" font-size="8" text-anchor="middle" fill="#111" stroke="#111" stroke-width="0.14" font-weight="bold">p</text>
<line x1="601" y1="538" x2="601" y2="622.5" stroke="#222" stroke-width="0.8"/>
<line x1="598" y1="538" x2="601" y2="538" stroke="#222" stroke-width="0.8"/>
<text x="597.6" y="540.22" font-size="6.4" text-anchor="end" fill="#1e1e1e" stroke="#1e1e1e" stroke-width="0.14">800</text>
<line x1="598" y1="559.12" x2="601" y2="559.12" stroke="#222" stroke-width="0.8"/>
<text x="597.6" y="561.34" font-size="6.4" text-anchor="end" fill="#1e1e1e" stroke="#1e1e1e" stroke-width="0.14">600</text>
<line x1="598" y1="580.25" x2="601" y2="580.25" stroke="#222" stroke-width="0.8"/>
<text x="597.6" y="582.47" font-size="6.4" text-anchor="end" fill="#1e1e1e" stroke="#1e1e1e" stroke-width="0.14">400</text>
<line x1="598" y1="601.38" x2="601" y2="601.38" stroke="#222" stroke-width="0.8"/>
<text x="597.6" y="603.59" font-size="6.4" text-anchor="end" fill="#1e1e1e" stroke="#1e1e1e" stroke-width="0.14">200</text>
<line x1="598" y1="622.5" x2="601" y2="622.5" stroke="#222" stroke-width="0.8"/>
<text x="597.6" y="624.72" font-size="6.4" text-anchor="end" fill="#1e1e1e" stroke="#1e1e1e" stroke-width="0.14">0</text>
<rect x="609" y="560" width="16.25" height="62.5" fill="#FF7B7B"/>
<rect x="633.25" y="567" width="15.75" height="55.5" fill="#5757F8"/>
<line x1="601" y1="622.5" x2="657" y2="622.5" stroke="#222" stroke-width="0.8"/>
<line x1="617.1" y1="622.5" x2="617.1" y2="625.3" stroke="#222" stroke-width="0.8"/>
<line x1="641.1" y1="622.5" x2="641.1" y2="625.3" stroke="#222" stroke-width="0.8"/>
<line x1="617.1" y1="560" x2="617.1" y2="553" stroke="#333" stroke-width="0.6"/>
<line x1="614.3" y1="553" x2="619.9" y2="553" stroke="#333" stroke-width="0.6"/>
<line x1="641.1" y1="567" x2="641.1" y2="555.5" stroke="#333" stroke-width="0.6"/>
<line x1="638.3" y1="555.5" x2="643.9" y2="555.5" stroke="#333" stroke-width="0.6"/>
<polyline points="617.1,547.5 617.1,543.8 641.1,543.8 641.1,553.8" fill="none" stroke="#8a8a8a" stroke-width="0.6"/>
<text x="629.5" y="542.71" font-size="6.1" text-anchor="middle" fill="#1e1e1e" stroke="#1e1e1e" stroke-width="0.14"><tspan font-style="italic">P</tspan>=0.1670</text>
<circle cx="617.1" cy="549" r="1.38" fill="#fff" stroke="#222" stroke-width="0.5"/>
<circle cx="615.5" cy="555.5" r="1.38" fill="#fff" stroke="#222" stroke-width="0.5"/>
<circle cx="618.5" cy="556" r="1.38" fill="#fff" stroke="#222" stroke-width="0.5"/>
<circle cx="617.1" cy="562" r="1.38" fill="#fff" stroke="#222" stroke-width="0.5"/>
<circle cx="614.5" cy="567" r="1.38" fill="#fff" stroke="#222" stroke-width="0.5"/>
<circle cx="619.5" cy="567" r="1.38" fill="#fff" stroke="#222" stroke-width="0.5"/>
<circle cx="638.5" cy="555.3" r="1.38" fill="#fff" stroke="#222" stroke-width="0.5"/>
<circle cx="643.8" cy="555" r="1.38" fill="#fff" stroke="#222" stroke-width="0.5"/>
<circle cx="641.1" cy="567.2" r="1.38" fill="#fff" stroke="#222" stroke-width="0.5"/>
<circle cx="636" cy="574" r="1.38" fill="#fff" stroke="#222" stroke-width="0.5"/>
<circle cx="641.1" cy="574.8" r="1.38" fill="#fff" stroke="#222" stroke-width="0.5"/>
<circle cx="646.5" cy="576" r="1.38" fill="#fff" stroke="#222" stroke-width="0.5"/>
<text x="616.9" y="628.8" dy="2.08" font-size="6.0" text-anchor="end" fill="#1e1e1e" stroke="#1e1e1e" stroke-width="0.14" transform="rotate(-46 616.9 628.8)">AAV-<tspan font-style="italic">Fto-KD</tspan></text>
<text x="641" y="628.8" dy="2.08" font-size="6.0" text-anchor="end" fill="#1e1e1e" stroke="#1e1e1e" stroke-width="0.14" transform="rotate(-46 641 628.8)">AAV-<tspan font-style="italic">Fto-KD</tspan>+MIAA</text>
<text x="579.5" y="580.5" dy="2.43" font-size="7.0" text-anchor="middle" fill="#1e1e1e" stroke="#1e1e1e" stroke-width="0.14" transform="rotate(-90 579.5 580.5)">AUC during ITT</text>
<text x="7.5" y="681.57" font-size="8" text-anchor="middle" fill="#111" stroke="#111" stroke-width="0.14" font-weight="bold">q</text>
<circle cx="30.7" cy="691.8" r="1.7" fill="#FF7B7B" stroke="none" stroke-width="0"/>
<circle cx="30.7" cy="700.1" r="1.7" fill="#5757F8" stroke="none" stroke-width="0"/>
<text x="35.3" y="693.86" font-size="5.95" text-anchor="start" fill="#1e1e1e" stroke="#1e1e1e" stroke-width="0.14" font-style="italic">AAV-Fto-KD</text>
<text x="35.3" y="702.16" font-size="5.95" text-anchor="start" fill="#1e1e1e" stroke="#1e1e1e" stroke-width="0.14" font-style="italic">AAV-Fto-KD+MIAA</text>
<line x1="26" y1="696.5" x2="26" y2="780.4" stroke="#222" stroke-width="0.8"/>
<line x1="23" y1="696.5" x2="26" y2="696.5" stroke="#222" stroke-width="0.8"/>
<text x="22.6" y="698.72" font-size="6.4" text-anchor="end" fill="#1e1e1e" stroke="#1e1e1e" stroke-width="0.14">2.0</text>
<line x1="23" y1="717.48" x2="26" y2="717.48" stroke="#222" stroke-width="0.8"/>
<text x="22.6" y="719.69" font-size="6.4" text-anchor="end" fill="#1e1e1e" stroke="#1e1e1e" stroke-width="0.14">1.5</text>
<line x1="23" y1="738.45" x2="26" y2="738.45" stroke="#222" stroke-width="0.8"/>
<text x="22.6" y="740.67" font-size="6.4" text-anchor="end" fill="#1e1e1e" stroke="#1e1e1e" stroke-width="0.14">1.0</text>
<line x1="23" y1="759.42" x2="26" y2="759.42" stroke="#222" stroke-width="0.8"/>
<text x="22.6" y="761.64" font-size="6.4" text-anchor="end" fill="#1e1e1e" stroke="#1e1e1e" stroke-width="0.14">0.5</text>
<line x1="23" y1="780.4" x2="26" y2="780.4" stroke="#222" stroke-width="0.8"/>
<text x="22.6" y="782.62" font-size="6.4" text-anchor="end" fill="#1e1e1e" stroke="#1e1e1e" stroke-width="0.14">0.0</text>
<rect x="31.9" y="743.8" width="11.4" height="36.6" fill="#FF7B7B"/>
<rect x="48.7" y="746" width="11.2" height="34.4" fill="#5757F8"/>
<rect x="76.9" y="729.5" width="11.2" height="50.9" fill="#FF7B7B"/>
<rect x="94" y="730.9" width="11.3" height="49.5" fill="#5757F8"/>
<line x1="26" y1="780.4" x2="110.8" y2="780.4" stroke="#222" stroke-width="0.8"/>
<line x1="45.3" y1="780.4" x2="45.3" y2="783.2" stroke="#222" stroke-width="0.8"/>
<line x1="90.6" y1="780.4" x2="90.6" y2="783.2" stroke="#222" stroke-width="0.8"/>
<line x1="37.6" y1="743.8" x2="37.6" y2="739.8" stroke="#333" stroke-width="0.6"/>
<line x1="34.6" y1="739.8" x2="40.6" y2="739.8" stroke="#333" stroke-width="0.6"/>
<line x1="54.3" y1="746" x2="54.3" y2="741.5" stroke="#333" stroke-width="0.6"/>
<line x1="51.3" y1="741.5" x2="57.3" y2="741.5" stroke="#333" stroke-width="0.6"/>
<line x1="82.5" y1="729.5" x2="82.5" y2="717.8" stroke="#333" stroke-width="0.6"/>
<line x1="79.5" y1="717.8" x2="85.5" y2="717.8" stroke="#333" stroke-width="0.6"/>
<line x1="99.6" y1="730.9" x2="99.6" y2="725.7" stroke="#333" stroke-width="0.6"/>
<line x1="96.6" y1="725.7" x2="102.6" y2="725.7" stroke="#333" stroke-width="0.6"/>
<polyline points="37.3,735.6 37.3,733.4 54.6,733.4 54.6,735.6" fill="none" stroke="#8a8a8a" stroke-width="0.6"/>
<polyline points="82.6,715.3 82.6,711.9 100.4,711.9 100.4,722.8" fill="none" stroke="#8a8a8a" stroke-width="0.6"/>
<text x="45" y="732.11" font-size="6.1" text-anchor="middle" fill="#1e1e1e" stroke="#1e1e1e" stroke-width="0.14"><tspan font-style="italic">P</tspan>=0.4219</text>
<text x="92" y="709.01" font-size="6.1" text-anchor="middle" fill="#1e1e1e" stroke="#1e1e1e" stroke-width="0.14"><tspan font-style="italic">P</tspan>=0.7598</text>
<circle cx="36.6" cy="741.3" r="1.38" fill="#fff" stroke="#222" stroke-width="0.5"/>
<circle cx="40.3" cy="738.4" r="1.38" fill="#fff" stroke="#222" stroke-width="0.5"/>
<circle cx="33.6" cy="745.5" r="1.38" fill="#fff" stroke="#222" stroke-width="0.5"/>
<circle cx="36.9" cy="745.5" r="1.38" fill="#fff" stroke="#222" stroke-width="0.5"/>
<circle cx="41.1" cy="745.5" r="1.38" fill="#fff" stroke="#222" stroke-width="0.5"/>
<circle cx="37.3" cy="749.7" r="1.38" fill="#fff" stroke="#222" stroke-width="0.5"/>
<circle cx="53.4" cy="740.8" r="1.38" fill="#fff" stroke="#222" stroke-width="0.5"/>
<circle cx="55.4" cy="739.6" r="1.38" fill="#fff" stroke="#222" stroke-width="0.5"/>
<circle cx="50.4" cy="746.3" r="1.38" fill="#fff" stroke="#222" stroke-width="0.5"/>
<circle cx="53.4" cy="748" r="1.38" fill="#fff" stroke="#222" stroke-width="0.5"/>
<circle cx="55.7" cy="748.8" r="1.38" fill="#fff" stroke="#222" stroke-width="0.5"/>
<circle cx="57.9" cy="748.8" r="1.38" fill="#fff" stroke="#222" stroke-width="0.5"/>
<circle cx="79.7" cy="718.6" r="1.38" fill="#fff" stroke="#222" stroke-width="0.5"/>
<circle cx="82.6" cy="717.3" r="1.38" fill="#fff" stroke="#222" stroke-width="0.5"/>
<circle cx="85.6" cy="716.1" r="1.38" fill="#fff" stroke="#222" stroke-width="0.5"/>
<circle cx="79.7" cy="728.3" r="1.38" fill="#fff" stroke="#222" stroke-width="0.5"/>
<circle cx="85.6" cy="728.7" r="1.38" fill="#fff" stroke="#222" stroke-width="0.5"/>
<circle cx="82.3" cy="737.9" r="1.38" fill="#fff" stroke="#222" stroke-width="0.5"/>
<circle cx="82.3" cy="747.5" r="1.38" fill="#fff" stroke="#222" stroke-width="0.5"/>
<circle cx="97" cy="725.7" r="1.38" fill="#fff" stroke="#222" stroke-width="0.5"/>
<circle cx="100.4" cy="725.3" r="1.38" fill="#fff" stroke="#222" stroke-width="0.5"/>
<circle cx="102.7" cy="724" r="1.38" fill="#fff" stroke="#222" stroke-width="0.5"/>
<circle cx="96.5" cy="735.4" r="1.38" fill="#fff" stroke="#222" stroke-width="0.5"/>
<circle cx="102.4" cy="735.4" r="1.38" fill="#fff" stroke="#222" stroke-width="0.5"/>
<circle cx="102.4" cy="737.9" r="1.38" fill="#fff" stroke="#222" stroke-width="0.5"/>
<text x="46.2" y="789.79" font-size="6.6" text-anchor="middle" fill="#1e1e1e" stroke="#1e1e1e" stroke-width="0.14">Liver</text>
<text x="90.6" y="789.79" font-size="6.6" text-anchor="middle" fill="#1e1e1e" stroke="#1e1e1e" stroke-width="0.14">eWAT</text>
<text x="6.7" y="740.4" dy="2.43" font-size="7.0" text-anchor="middle" fill="#1e1e1e" stroke="#1e1e1e" stroke-width="0.14" transform="rotate(-90 6.7 740.4)">Weight of tissue (g)</text>
</svg></body></html>
